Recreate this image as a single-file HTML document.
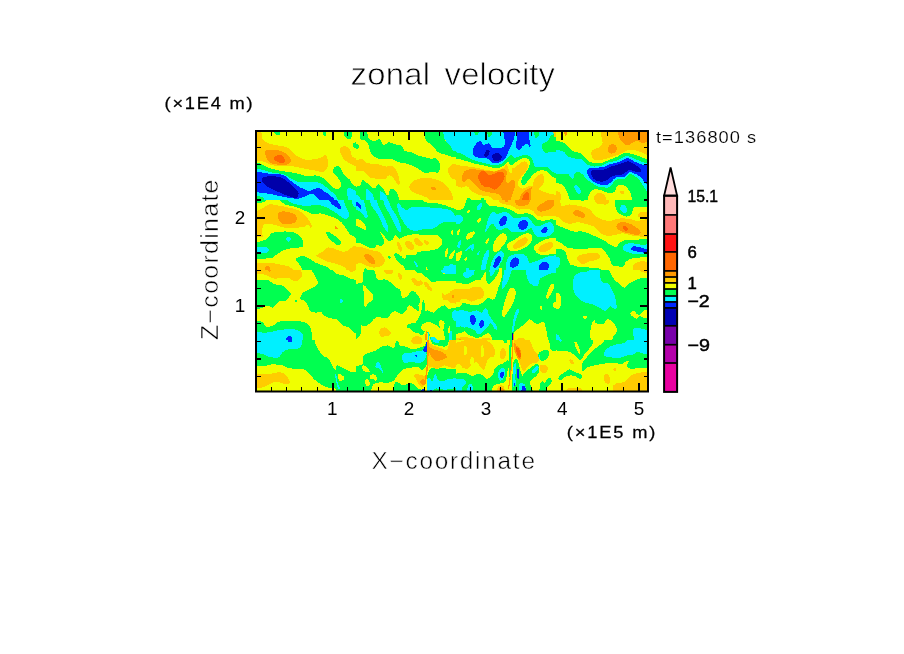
<!DOCTYPE html>
<html><head><meta charset="utf-8"><title>zonal velocity</title>
<style>html,body{margin:0;padding:0;background:#fff}svg{display:block}</style></head>
<body>
<svg width="904" height="654" viewBox="0 0 904 654">
<rect width="904" height="654" fill="#fff"/>
<defs><clipPath id="plot"><rect x="256" y="131" width="392" height="260.5"/></clipPath></defs>

<g clip-path="url(#plot)" shape-rendering="crispEdges">
<defs><clipPath id="t0"><rect x="256" y="130" width="100" height="70"/></clipPath><clipPath id="t1"><rect x="356" y="130" width="100" height="70"/></clipPath><clipPath id="t2"><rect x="456" y="130" width="100" height="70"/></clipPath><clipPath id="t3"><rect x="556" y="130" width="100" height="70"/></clipPath><clipPath id="t4"><rect x="256" y="200" width="100" height="70"/></clipPath><clipPath id="t5"><rect x="356" y="200" width="100" height="70"/></clipPath><clipPath id="t6"><rect x="456" y="200" width="100" height="70"/></clipPath><clipPath id="t7"><rect x="556" y="200" width="100" height="70"/></clipPath><clipPath id="t8"><rect x="256" y="270" width="100" height="70"/></clipPath><clipPath id="t9"><rect x="356" y="270" width="100" height="70"/></clipPath><clipPath id="t10"><rect x="456" y="270" width="100" height="70"/></clipPath><clipPath id="t11"><rect x="556" y="270" width="100" height="70"/></clipPath><clipPath id="t12"><rect x="256" y="340" width="100" height="70"/></clipPath><clipPath id="t13"><rect x="356" y="340" width="100" height="70"/></clipPath><clipPath id="t14"><rect x="456" y="340" width="100" height="70"/></clipPath><clipPath id="t15"><rect x="556" y="340" width="100" height="70"/></clipPath></defs>
<g clip-path="url(#t0)">
<rect x="256" y="130" width="100" height="70" fill="#F0FF00"/>
<path fill="#FFCC00" d="M249.4 123.4C249.4 123.4 257.8 128.5 261.0 132.2C262.5 133.9 261.4 136.9 262.6 138.8C263.9 140.8 266.0 142.3 268.2 143.3C271.3 144.6 274.8 144.7 278.1 145.5C281.4 146.2 285.1 146.1 288.1 147.7C290.8 149.2 292.2 152.5 294.7 154.3C297.4 156.4 300.3 158.4 303.6 159.3C306.8 160.2 310.2 159.7 313.5 159.3C316.5 159.0 319.5 158.1 322.4 157.1C323.6 156.6 324.7 154.0 325.7 154.9C327.6 156.6 327.7 159.6 327.9 162.1C328.1 164.3 327.9 166.8 326.8 168.7C325.9 170.3 324.2 171.8 322.4 172.0C319.8 172.4 317.2 170.9 314.6 170.4C311.3 169.8 308.0 169.3 304.7 168.7C301.0 168.0 297.3 167.0 293.6 166.5C290.3 166.1 287.0 166.1 283.7 166.0C280.0 165.8 276.2 166.1 272.6 165.4C269.8 164.8 267.5 163.0 264.8 162.1C263.1 161.5 261.2 160.8 259.3 161.0C255.9 161.2 249.4 163.2 249.4 163.2L249.4 123.4Z"/>
<path fill="#FF9900" d="M265.4 151.0C266.7 149.4 269.4 150.0 271.5 149.9C274.1 149.8 276.7 149.8 279.2 150.5C282.0 151.3 284.7 152.6 287.0 154.3C288.6 155.6 290.2 157.3 290.8 159.3C291.2 160.6 290.8 162.3 289.7 163.2C288.1 164.6 285.8 165.2 283.7 165.4C281.1 165.6 278.5 164.9 275.9 164.3C273.6 163.8 271.1 163.5 269.3 162.1C267.6 160.8 266.7 158.6 266.0 156.5C265.3 154.8 264.2 152.4 265.4 151.0Z"/>
<path fill="#FF6600" d="M273.7 158.8C273.7 156.8 276.3 155.5 278.1 154.9C279.6 154.4 281.3 155.1 282.5 156.0C283.8 156.9 284.7 158.4 285.0 159.9C285.2 160.9 284.6 162.3 283.7 162.6C281.9 163.2 279.9 162.8 278.1 162.1C276.4 161.4 273.7 160.6 273.7 158.8Z"/>
<path fill="#FFCC00" d="M340.1 148.8C341.0 147.0 343.6 145.8 345.6 146.0C347.5 146.3 349.0 148.3 350.0 149.9C351.3 151.9 350.5 155.0 352.2 156.5C355.1 159.0 362.6 161.0 362.6 161.0L362.6 168.7C362.6 168.7 354.8 166.1 351.1 164.3C348.7 163.1 346.4 161.7 344.5 159.9C343.0 158.3 342.0 156.3 341.2 154.3C340.5 152.6 339.2 150.5 340.1 148.8Z"/>
<path fill="#00FF50" d="M272.6 123.4L279.8 123.4C279.8 123.4 281.4 131.1 279.8 134.4C279.0 135.9 275.7 134.7 274.8 133.3C273.0 130.5 272.6 123.4 272.6 123.4Z"/>
<path fill="#00FF50" d="M322.4 123.4L326.2 123.4C326.2 123.4 326.7 132.0 325.7 136.1C325.5 136.9 323.7 135.8 323.5 135.0C322.5 131.2 322.4 123.4 322.4 123.4Z"/>
<path fill="#00FF50" d="M343.4 123.4L351.1 123.4C351.1 123.4 352.3 132.3 351.7 136.6C351.5 137.9 350.2 139.6 348.9 139.4C347.0 139.1 345.1 137.4 344.5 135.5C343.2 131.7 343.4 123.4 343.4 123.4Z"/>
<path fill="#00FF50" d="M353.3 143.3C355.9 141.3 362.6 141.1 362.6 141.1L362.6 149.9C362.6 149.9 356.3 149.4 353.9 147.7C352.7 146.8 352.2 144.2 353.3 143.3Z"/>
<path fill="#00FF50" d="M249.4 161.5C249.4 161.5 256.8 162.6 260.4 163.7C262.8 164.5 264.7 166.2 267.1 167.1C270.7 168.4 274.4 169.5 278.1 170.4C281.8 171.2 285.5 171.4 289.2 172.0C292.9 172.7 296.6 173.4 300.2 174.2C302.9 174.9 305.3 176.3 308.0 176.5C310.6 176.6 313.1 175.2 315.7 175.4C318.1 175.5 320.3 176.4 322.4 177.6C324.4 178.7 326.1 180.4 327.9 182.0C329.8 183.7 331.2 186.2 333.4 187.5C335.0 188.5 337.2 189.4 339.0 188.6C340.5 188.0 341.3 185.8 341.2 184.2C340.9 181.7 339.3 179.6 337.9 177.6C336.7 175.9 334.4 175.0 333.4 173.1C332.8 171.8 332.8 170.1 333.4 168.7C334.0 167.4 335.3 166.2 336.8 166.0C338.0 165.7 339.3 166.6 340.1 167.6C341.6 169.5 341.8 172.3 343.4 174.2C345.2 176.5 348.1 177.6 350.0 179.8C351.5 181.4 351.6 184.1 353.3 185.3C356.0 187.2 362.6 188.6 362.6 188.6L362.6 206.7L249.4 206.7L249.4 161.5Z"/>
<path fill="#00F0FF" d="M249.4 166.5C249.4 166.5 258.2 168.7 262.6 169.8C266.0 170.7 269.2 171.9 272.6 172.6C276.2 173.4 280.1 173.2 283.7 174.2C285.7 174.9 287.3 176.5 289.2 177.6C292.1 179.1 294.8 181.1 298.0 182.0C300.5 182.7 303.2 182.0 305.8 182.0C309.1 182.0 312.4 181.6 315.7 182.0C318.0 182.3 320.4 183.0 322.4 184.2C324.9 185.7 326.8 187.9 329.0 189.7C331.2 191.6 334.1 192.9 335.6 195.3C337.9 198.7 340.1 206.7 340.1 206.7L249.4 206.7L249.4 166.5Z"/>
<path fill="#0028FF" d="M249.4 170.4C249.4 170.4 258.2 171.9 262.6 172.6C266.0 173.1 269.2 173.9 272.6 174.2C275.9 174.6 279.4 173.9 282.5 174.8C284.7 175.4 286.3 177.3 288.1 178.7C290.0 180.1 291.7 181.7 293.6 183.1C295.8 184.7 297.9 186.2 300.2 187.5C302.0 188.5 304.0 188.9 305.8 189.7C306.9 190.2 307.9 191.4 309.1 191.4C310.7 191.3 312.0 189.9 313.5 189.4C315.3 188.8 317.2 187.9 319.1 188.3C321.2 188.7 322.8 190.4 324.6 191.6C327.6 193.7 331.2 195.3 333.4 198.3C335.2 200.6 335.6 206.7 335.6 206.7L323.5 206.7C323.5 206.7 318.7 199.2 315.7 196.0C314.6 194.8 313.0 193.8 311.3 193.8C309.3 193.8 307.6 195.4 305.8 196.0C303.2 197.0 300.8 198.6 298.0 198.7C293.6 198.9 289.2 197.9 284.8 197.1C279.6 196.3 274.5 194.6 269.3 193.8C262.7 192.8 249.4 191.6 249.4 191.6L249.4 170.4Z"/>
<path fill="#0000AA" d="M261.5 178.7C262.8 177.1 265.1 176.8 267.1 176.5C270.0 176.0 273.0 176.1 275.9 176.5C278.6 176.8 281.3 177.5 283.7 178.7C285.8 179.7 287.4 181.5 289.2 183.1C291.1 184.8 292.9 186.7 294.7 188.6C296.1 190.1 298.1 191.2 298.6 193.1C299.0 194.6 298.3 196.7 296.9 197.5C295.3 198.4 293.2 197.4 291.4 196.9C288.7 196.3 286.2 195.2 283.7 194.2C281.0 193.1 278.5 192.0 275.9 190.8C272.9 189.4 269.8 188.2 267.1 186.4C265.3 185.3 263.8 183.7 262.6 182.0C262.0 181.0 260.8 179.6 261.5 178.7Z"/>
<path fill="#00FF50" d="M249.4 196.4C249.4 196.4 258.8 195.2 262.6 197.5C265.6 199.2 267.1 206.7 267.1 206.7L249.4 206.7L249.4 196.4Z"/>
<path fill="#00F0FF" d="M347.8 188.6C348.2 188.0 349.3 187.8 350.0 188.1C354.4 189.7 362.6 194.2 362.6 194.2L362.6 206.7L348.9 206.7C348.9 206.7 347.5 197.6 347.3 193.1C347.2 191.6 347.1 189.9 347.8 188.6Z"/>
</g>
<g clip-path="url(#t1)">
<rect x="356" y="130" width="100" height="70" fill="#F0FF00"/>
<path fill="#00FF50" d="M360.4 123.4L367.6 123.4C367.6 123.4 366.6 133.2 368.2 137.7C368.9 139.8 371.6 140.8 373.7 141.1C375.8 141.4 377.8 138.6 379.8 139.4C381.9 140.2 381.5 144.3 383.7 144.9C385.6 145.5 387.1 142.3 389.2 142.2C391.2 142.1 392.8 143.9 394.7 144.4C396.9 145.0 399.5 144.2 401.4 145.5C403.1 146.7 402.9 149.8 404.7 151.0C406.5 152.3 409.2 151.4 411.3 152.1C413.7 152.9 415.6 154.6 417.9 155.4C420.1 156.2 422.4 156.5 424.6 157.1C426.8 157.7 429.0 158.5 431.2 158.8C432.7 158.9 434.3 157.6 435.6 158.2C437.2 158.9 438.2 160.5 439.0 162.1C439.8 163.8 440.3 165.7 440.1 167.6C439.9 169.4 439.4 171.6 437.9 172.6C436.6 173.4 434.9 172.0 433.4 172.0C430.5 172.0 427.5 173.2 424.6 172.6C422.1 172.1 420.2 169.9 417.9 168.7C415.8 167.5 413.6 166.3 411.3 165.4C409.2 164.5 406.9 163.8 404.7 163.2C402.5 162.6 400.2 162.8 398.0 162.1C395.7 161.3 393.8 159.2 391.4 158.8C388.9 158.3 386.2 159.5 383.7 159.3C381.0 159.1 378.2 158.9 375.9 157.7C373.6 156.4 371.7 154.4 370.4 152.1C369.2 150.2 369.6 147.6 368.7 145.5C368.1 143.9 367.3 142.1 366.0 141.1C364.4 139.8 361.0 140.7 360.4 138.8C358.9 133.9 360.4 123.4 360.4 123.4Z"/>
<path fill="#00FF50" d="M349.4 142.2C349.4 142.2 355.8 142.5 358.2 144.4C359.4 145.3 358.8 147.9 357.7 148.8C355.4 150.5 349.4 151.0 349.4 151.0L349.4 142.2Z"/>
<path fill="#00FF50" d="M424.0 123.4L443.4 123.4C443.4 123.4 443.0 133.9 444.5 138.8C445.3 141.6 448.2 143.2 450.0 145.5C451.2 146.9 451.7 149.2 453.3 149.9C456.2 151.2 462.6 151.0 462.6 151.0L462.6 157.7C462.6 157.7 454.9 157.2 451.1 156.5C448.8 156.1 446.7 155.1 444.5 154.3C442.3 153.6 439.8 153.5 437.9 152.1C435.9 150.8 435.1 148.3 433.4 146.6C431.4 144.6 428.7 143.2 426.8 141.1C425.7 139.8 424.8 138.3 424.6 136.6C423.9 132.3 424.0 123.4 424.0 123.4Z"/>
<path fill="#00F0FF" d="M442.8 123.4L462.6 123.4L462.6 151.0C462.6 151.0 456.2 151.7 453.3 150.5C451.5 149.7 451.2 147.1 450.0 145.5C448.3 143.2 445.4 141.6 444.5 138.8C442.9 133.9 442.8 123.4 442.8 123.4Z"/>
<path fill="#FFCC00" d="M349.4 162.1C349.4 162.1 358.1 159.0 362.6 159.3C364.6 159.4 365.2 162.6 367.1 163.2C370.6 164.3 374.5 163.6 378.1 164.3C380.8 164.8 383.2 166.2 385.9 166.5C388.1 166.8 390.5 165.0 392.5 166.0C394.7 167.1 395.8 169.8 396.9 172.0C398.0 174.1 398.8 176.4 399.1 178.7C399.4 180.7 400.6 184.3 398.6 184.8C396.5 185.3 396.2 181.3 394.7 179.8C393.0 178.1 391.5 175.6 389.2 175.4C387.5 175.2 386.9 178.2 385.3 178.7C383.0 179.4 380.5 178.8 378.1 178.7C375.5 178.5 372.7 178.7 370.4 177.6C368.0 176.4 367.0 173.5 364.8 172.0C363.6 171.2 361.9 170.9 360.4 170.9C356.7 171.1 349.4 172.6 349.4 172.6L349.4 162.1Z"/>
<path fill="#FFCC00" d="M409.1 186.4C408.7 188.0 410.1 189.8 411.3 190.8C413.2 192.5 415.7 193.2 417.9 194.2C420.8 195.4 424.2 195.7 426.8 197.5C430.3 199.9 435.6 206.7 435.6 206.7L453.3 206.7C453.3 206.7 453.4 198.2 452.2 194.2C451.5 191.6 449.4 189.6 447.8 187.5C446.5 185.8 445.3 183.7 443.4 182.5C440.4 180.7 436.9 179.4 433.4 178.7C429.8 177.9 426.0 177.7 422.4 178.1C419.3 178.5 416.1 179.2 413.5 180.9C411.5 182.1 409.6 184.1 409.1 186.4Z"/>
<path fill="#FF9900" d="M431.2 187.0C432.4 186.4 434.0 186.8 435.1 187.5C435.7 187.9 436.3 189.4 435.6 189.7C434.5 190.3 432.9 189.9 431.8 189.2C431.1 188.8 430.5 187.3 431.2 187.0Z"/>
<path fill="#FFCC00" d="M462.6 163.2C462.6 163.2 455.5 163.0 452.2 164.3C450.4 165.0 449.0 166.9 448.4 168.7C447.8 170.5 448.2 172.5 448.9 174.2C449.6 176.0 450.6 177.9 452.2 178.7C455.4 180.2 462.6 180.9 462.6 180.9L462.6 163.2Z"/>
<path fill="#00FF50" d="M349.4 187.5C349.4 187.5 357.1 187.1 360.4 185.3C362.0 184.4 360.9 180.9 362.6 180.3C364.3 179.8 365.6 182.1 367.1 183.1C369.7 184.9 371.6 188.3 374.8 188.6C376.6 188.8 376.3 184.0 378.1 184.2C380.7 184.5 381.9 187.8 383.7 189.7C385.2 191.5 385.7 195.5 388.1 195.3C390.2 195.1 388.7 190.6 390.3 189.2C391.3 188.3 393.1 188.9 394.2 189.7C395.9 191.1 397.3 193.1 398.0 195.3C399.3 198.9 400.2 206.7 400.2 206.7L349.4 206.7L349.4 187.5Z"/>
<path fill="#00F0FF" d="M366.0 189.4C366.1 188.4 367.9 189.7 368.7 190.3C370.2 191.4 371.9 192.5 372.6 194.2C374.3 198.1 375.7 206.7 375.7 206.7L367.1 206.7C367.1 206.7 365.4 195.1 366.0 189.4Z"/>
<path fill="#00F0FF" d="M380.1 191.6C380.2 190.6 382.3 191.9 383.1 192.5C384.5 193.5 386.1 194.7 386.8 196.4C388.0 199.6 388.6 206.7 388.6 206.7L381.4 206.7C381.4 206.7 379.5 196.6 380.1 191.6Z"/>
<path fill="#00F0FF" d="M349.4 193.1C349.4 193.1 357.0 193.7 359.3 196.4C361.6 199.0 361.0 206.7 361.0 206.7L349.4 206.7L349.4 193.1Z"/>
</g>
<g clip-path="url(#t2)">
<rect x="456" y="130" width="100" height="70" fill="#F0FF00"/>
<path fill="#00FF50" d="M449.4 157.7C449.4 157.7 458.3 158.8 462.6 159.9C466.0 160.7 469.2 162.3 472.6 163.2C476.2 164.1 480.0 164.6 483.7 165.4C487.4 166.2 490.9 167.9 494.7 168.2C497.4 168.3 500.1 167.6 502.5 166.5C504.6 165.5 505.6 162.4 508.0 162.1C509.5 161.9 509.7 165.4 511.3 165.4C513.2 165.4 514.2 163.1 515.7 162.1C517.9 160.7 519.9 158.9 522.4 158.2C524.2 157.7 526.3 157.8 527.9 158.8C529.3 159.7 530.3 161.5 530.1 163.2C529.9 166.0 528.1 168.5 526.8 170.9C525.5 173.3 523.6 175.2 522.4 177.6C521.7 178.9 521.1 180.5 521.3 182.0C521.5 183.3 522.2 185.5 523.5 185.3C525.5 185.0 526.5 182.4 527.9 180.9C529.8 178.7 531.3 176.1 533.4 174.2C535.4 172.6 537.6 170.9 540.1 170.4C542.3 169.9 544.7 170.5 546.7 171.5C548.9 172.6 550.1 175.2 552.2 176.5C555.5 178.4 562.6 180.9 562.6 180.9L562.6 123.4L449.4 123.4L449.4 157.7Z"/>
<path fill="#00F0FF" d="M449.4 151.0C449.4 151.0 457.6 152.4 461.5 153.8C464.3 154.8 466.6 157.0 469.3 158.2C472.1 159.5 475.1 160.6 478.1 161.5C481.8 162.6 485.5 163.4 489.2 164.3C491.0 164.7 492.8 165.6 494.7 165.4C497.4 165.2 500.1 164.5 502.5 163.2C504.7 161.9 506.1 159.4 508.0 157.7C509.0 156.7 509.9 154.9 511.3 154.9C512.7 154.9 513.2 157.5 514.6 157.7C516.5 157.9 518.3 156.4 520.2 156.0C522.3 155.5 524.6 154.6 526.8 154.9C528.5 155.1 530.1 156.3 531.2 157.7C532.5 159.2 532.6 161.4 533.4 163.2C534.1 164.5 534.3 166.5 535.6 167.1C537.7 167.8 540.1 166.4 542.3 166.5C544.2 166.6 546.2 166.7 547.8 167.6C549.6 168.6 550.3 171.2 552.2 172.0C555.5 173.5 562.6 174.2 562.6 174.2L562.6 123.4L449.4 123.4L449.4 151.0Z"/>
<path fill="#00FF50" d="M542.3 144.4C543.3 142.5 546.3 142.6 547.8 141.1C549.0 139.9 549.0 137.9 550.0 136.6C550.9 135.6 552.1 134.8 553.3 134.4C556.4 133.6 562.6 133.3 562.6 133.3L562.6 152.1C562.6 152.1 555.0 151.3 551.1 151.6C549.2 151.7 547.5 153.6 545.6 153.2C544.2 152.9 543.3 151.3 542.8 149.9C542.2 148.2 541.4 146.0 542.3 144.4Z"/>
<path fill="#00FF50" d="M474.3 123.4L480.9 123.4C480.9 123.4 480.0 131.1 478.1 134.4C477.6 135.4 475.2 135.5 474.8 134.4C473.6 130.9 474.3 123.4 474.3 123.4Z"/>
<path fill="#00FF50" d="M487.0 123.4L491.4 123.4C491.4 123.4 492.4 131.6 491.4 135.5C491.1 136.7 488.5 137.7 488.1 136.6C486.6 132.5 487.0 123.4 487.0 123.4Z"/>
<path fill="#00FF50" d="M533.4 123.4L538.4 123.4C538.4 123.4 539.4 132.3 538.4 136.6C538.1 137.7 535.5 138.2 535.1 137.2C533.5 132.8 533.4 123.4 533.4 123.4Z"/>
<path fill="#FFCC00" d="M553.9 123.4L562.6 123.4L562.6 138.3C562.6 138.3 555.9 139.0 554.5 136.6C552.2 132.8 553.9 123.4 553.9 123.4Z"/>
<path fill="#0028FF" d="M472.6 151.0C472.6 149.0 473.6 147.1 474.8 145.5C476.3 143.6 478.0 141.2 480.3 141.1C482.0 141.0 482.0 144.5 483.7 144.9C485.5 145.4 487.3 142.7 489.2 143.3C490.9 143.8 490.9 146.8 492.5 147.7C494.1 148.6 496.2 148.4 498.0 148.3C500.0 148.1 502.4 148.1 503.6 146.6C505.0 144.8 504.9 142.2 504.7 140.0C504.1 134.3 501.4 123.4 501.4 123.4L516.8 123.4C516.8 123.4 515.1 134.5 513.5 140.0C512.5 143.4 510.6 146.6 509.1 149.9C508.0 152.5 507.4 155.4 505.8 157.7C504.4 159.6 502.4 161.1 500.2 162.1C498.2 163.0 495.8 163.8 493.6 163.2C491.3 162.6 490.2 159.7 488.1 158.8C486.0 157.8 483.7 158.0 481.4 157.7C479.2 157.3 476.6 157.9 474.8 156.5C473.2 155.4 472.6 153.0 472.6 151.0Z"/>
<path fill="#0028FF" d="M517.9 123.4L527.9 123.4C527.9 123.4 529.0 135.2 529.6 141.1C529.7 142.9 531.4 145.3 530.1 146.6C529.1 147.6 528.2 143.8 526.8 143.8C525.1 143.8 523.7 145.5 522.4 146.6C521.1 147.6 520.6 149.6 519.1 149.9C517.9 150.1 516.5 148.9 516.3 147.7C515.7 144.8 516.6 141.8 516.8 138.8C517.2 133.7 517.9 123.4 517.9 123.4Z"/>
<path fill="#0000AA" d="M484.2 154.9C484.2 153.2 485.3 151.6 486.4 150.5C487.1 149.8 488.6 149.2 489.2 149.9C490.0 150.9 489.6 152.6 489.2 153.8C488.7 155.1 487.8 156.8 486.4 157.1C485.4 157.3 484.2 155.9 484.2 154.9Z"/>
<path fill="#0000AA" d="M492.0 155.4C492.3 154.0 494.3 153.4 495.8 153.2C497.3 153.0 499.0 153.4 500.2 154.3C501.2 155.1 502.1 156.4 501.9 157.7C501.7 158.9 500.4 160.0 499.1 160.4C497.6 161.0 495.5 161.4 494.2 160.4C492.7 159.4 491.5 157.2 492.0 155.4Z"/>
<path fill="#FFCC00" d="M449.4 164.3C449.4 164.3 464.9 165.9 472.6 167.1C480.0 168.1 487.2 170.8 494.7 170.9C497.9 171.0 500.8 169.2 503.6 167.6C505.4 166.6 505.9 163.3 508.0 163.2C509.6 163.1 509.4 166.2 510.8 167.1C511.8 167.8 513.4 168.1 514.6 167.6C516.8 166.7 518.1 164.4 520.2 163.2C521.5 162.4 523.0 161.3 524.6 161.5C526.0 161.7 527.5 162.9 527.9 164.3C528.4 166.1 527.6 168.1 526.8 169.8C525.7 171.9 523.8 173.5 522.4 175.4C521.2 176.8 519.8 178.1 519.1 179.8C518.3 181.5 517.3 183.5 517.9 185.3C518.6 187.0 520.5 188.4 522.4 188.6C524.3 188.8 526.0 186.8 527.9 186.4C529.3 186.1 531.3 185.4 532.3 186.4C533.7 187.7 533.4 190.1 533.4 191.9C533.4 196.9 532.3 206.7 532.3 206.7L500.2 206.7C500.2 206.7 493.6 198.9 489.2 196.4C486.6 194.9 483.2 196.0 480.3 195.3C477.6 194.5 474.9 193.5 472.6 191.9C470.4 190.5 469.5 187.4 467.1 186.4C465.3 185.7 463.4 187.9 461.5 187.5C457.3 186.7 449.4 183.1 449.4 183.1L449.4 164.3Z"/>
<path fill="#F0FF00" d="M507.4 163.2C507.6 162.2 509.5 163.6 510.2 164.3C511.3 165.5 512.2 167.1 512.4 168.7C512.6 170.2 512.6 172.3 511.3 173.1C510.4 173.7 509.5 171.9 509.1 170.9C508.1 168.5 507.0 165.8 507.4 163.2Z"/>
<path fill="#FF9900" d="M462.1 176.5C462.3 174.4 463.1 172.1 464.8 170.9C467.0 169.4 470.0 169.3 472.6 169.3C476.3 169.2 480.0 170.0 483.7 170.4C487.3 170.7 491.0 171.8 494.7 171.5C497.8 171.2 500.5 168.6 503.6 168.7C505.1 168.8 506.5 170.5 506.9 172.0C507.4 174.2 505.6 176.4 505.8 178.7C505.9 180.3 506.4 182.9 508.0 183.1C510.1 183.4 511.7 178.6 513.5 179.8C515.7 181.2 514.8 184.9 514.6 187.5C514.4 189.8 513.1 191.9 512.4 194.2C511.2 198.3 509.1 206.7 509.1 206.7L502.5 206.7C502.5 206.7 502.5 198.4 500.2 195.3C498.7 193.1 495.1 193.7 492.5 193.1C490.7 192.6 488.8 192.4 487.0 191.9C485.1 191.5 483.1 191.2 481.4 190.3C479.7 189.3 478.4 187.8 477.0 186.4C475.5 185.0 474.2 183.4 472.6 182.0C471.2 180.8 470.0 178.7 468.2 178.7C466.3 178.7 465.5 182.6 463.7 182.0C461.9 181.3 461.9 178.4 462.1 176.5Z"/>
<path fill="#FF6600" d="M478.1 176.5C478.4 174.5 479.7 172.5 481.4 171.5C482.7 170.7 484.5 171.4 485.9 172.0C487.3 172.7 487.6 175.3 489.2 175.4C491.9 175.5 494.3 173.3 496.9 172.6C498.7 172.1 500.8 171.2 502.5 172.0C503.9 172.8 504.7 174.8 504.7 176.5C504.7 178.4 503.4 180.3 502.5 182.0C501.6 183.6 500.4 185.1 499.1 186.4C497.8 187.7 496.5 189.5 494.7 189.7C493.1 189.9 491.9 188.0 490.3 187.5C488.1 186.9 485.6 187.5 483.7 186.4C481.9 185.5 480.7 183.7 479.8 182.0C478.8 180.3 477.8 178.4 478.1 176.5Z"/>
<path fill="#FF9900" d="M517.9 206.7C517.9 206.7 519.3 198.0 521.3 194.2C522.4 192.1 524.8 190.9 526.8 189.7C528.5 188.7 530.4 186.9 532.3 187.5C533.8 188.0 533.5 190.4 533.4 191.9C533.1 196.9 531.2 206.7 531.2 206.7L517.9 206.7Z"/>
<path fill="#FF6600" d="M520.7 206.7C520.7 206.7 521.9 198.8 523.5 195.3C524.2 193.7 525.6 191.9 527.3 191.9C528.6 191.9 529.0 194.0 529.0 195.3C529.2 199.1 527.9 206.7 527.9 206.7L520.7 206.7Z"/>
<path fill="#FFCC00" d="M533.4 182.0C533.7 179.9 535.1 177.9 536.8 176.5C538.2 175.2 540.4 173.7 542.3 174.2C543.9 174.7 544.4 177.0 544.5 178.7C544.6 180.6 543.8 182.5 542.8 184.2C541.9 185.9 540.0 187.0 539.0 188.6C537.6 190.7 536.1 192.8 535.6 195.3C535.0 199.0 535.6 206.7 535.6 206.7L532.3 206.7C532.3 206.7 532.2 190.1 533.4 182.0Z"/>
<path fill="#00FF50" d="M467.1 206.7C467.1 206.7 465.6 197.5 468.7 197.5C471.9 197.5 471.5 206.7 471.5 206.7L467.1 206.7Z"/>
<path fill="#00FF50" d="M480.3 206.7C480.3 206.7 479.4 197.5 482.5 197.5C485.7 197.5 484.8 206.7 484.8 206.7L480.3 206.7Z"/>
<path fill="#FFCC00" d="M532.3 186.4C533.6 183.8 537.4 189.2 540.1 190.3C542.6 191.4 545.2 192.3 547.8 193.1C552.7 194.4 562.6 196.4 562.6 196.4L562.6 206.7L532.3 206.7C532.3 206.7 529.4 192.5 532.3 186.4Z"/>
</g>
<g clip-path="url(#t3)">
<rect x="556" y="130" width="100" height="70" fill="#F0FF00"/>
<path fill="#00FF50" d="M549.4 140.0C549.4 140.0 558.4 140.7 562.6 142.2C564.9 143.0 566.4 145.0 568.2 146.6C569.7 148.0 570.8 150.0 572.6 151.0C574.9 152.3 578.1 151.8 580.3 153.2C583.0 154.9 584.5 158.0 587.0 159.9C589.0 161.4 591.2 162.8 593.6 163.2C596.5 163.7 599.6 163.3 602.5 162.6C605.2 162.0 607.6 160.3 610.2 159.3C612.8 158.3 615.5 157.7 617.9 156.5C620.3 155.5 622.1 153.2 624.6 152.7C626.8 152.2 629.0 153.2 631.2 153.8C634.2 154.5 637.1 155.6 640.1 156.5C642.7 157.4 645.1 159.0 647.8 159.3C652.7 159.9 662.6 159.3 662.6 159.3L662.6 206.7L632.3 206.7C632.3 206.7 632.1 199.0 631.2 195.3C630.6 192.9 629.5 190.5 627.9 188.6C626.5 186.9 624.6 185.2 622.4 184.8C620.5 184.4 618.3 185.1 616.8 186.4C615.4 187.8 616.1 190.7 614.6 191.9C613.2 193.2 611.0 193.2 609.1 193.1C606.8 192.8 604.7 191.4 602.5 190.8C599.9 190.2 597.3 188.5 594.7 189.2C592.3 189.8 590.2 191.9 589.2 194.2C587.5 198.0 587.0 206.7 587.0 206.7L572.6 206.7C572.6 206.7 569.7 199.1 568.2 195.3C567.4 193.4 567.0 191.4 566.0 189.7C564.7 187.7 563.7 185.2 561.5 184.2C557.8 182.5 549.4 182.0 549.4 182.0L549.4 140.0Z"/>
<path fill="#00F0FF" d="M549.4 150.5C549.4 150.5 558.4 149.7 562.6 151.0C565.1 151.8 565.9 155.2 568.2 156.5C570.5 157.9 573.3 158.2 575.9 158.8C577.7 159.1 579.8 158.5 581.4 159.3C583.7 160.4 584.8 163.0 587.0 164.3C589.0 165.5 591.3 166.3 593.6 166.5C596.6 166.7 599.6 166.2 602.5 165.4C604.5 164.9 606.0 163.3 608.0 162.6C610.5 161.8 613.2 161.8 615.7 161.0C618.1 160.2 620.1 158.7 622.4 157.7C623.8 157.0 625.2 155.9 626.8 156.0C629.1 156.1 631.3 157.4 633.4 158.2C636.1 159.2 638.5 160.6 641.2 161.5C643.3 162.3 645.5 163.0 647.8 163.2C652.7 163.6 662.6 163.2 662.6 163.2L662.6 191.9C662.6 191.9 652.6 193.1 647.8 191.9C646.0 191.5 645.6 189.0 644.5 187.5C642.6 185.0 641.1 182.1 639.0 179.8C637.4 178.0 635.5 176.5 633.4 175.4C632.1 174.6 630.4 173.7 629.0 174.2C627.1 175.0 626.5 177.9 624.6 178.7C621.8 179.8 618.4 178.4 615.7 179.8C613.6 180.8 613.0 183.6 611.3 185.3C610.4 186.2 609.3 187.4 608.0 187.5C604.7 187.8 601.2 187.4 598.0 186.4C595.6 185.7 593.6 183.9 591.4 182.5C589.5 181.3 587.5 180.2 585.9 178.7C584.5 177.4 583.9 175.4 582.5 174.2C581.3 173.2 579.8 172.3 578.1 172.0C577.0 171.9 575.6 172.2 574.8 173.1C573.5 174.7 574.6 178.3 572.6 178.7C570.5 179.0 570.0 175.2 568.2 174.2C566.5 173.4 564.5 173.7 562.6 173.7C558.2 173.7 549.4 174.2 549.4 174.2L549.4 150.5Z"/>
<path fill="#0028FF" d="M587.0 170.9C587.1 169.8 588.1 168.6 589.2 168.2C591.3 167.4 593.6 167.8 595.8 167.6C598.4 167.4 601.1 167.7 603.6 167.1C605.6 166.6 607.1 164.9 609.1 164.3C611.6 163.5 614.3 163.4 616.8 162.6C619.1 161.9 621.3 160.8 623.5 159.9C624.9 159.3 626.3 158.0 627.9 158.2C630.0 158.4 631.6 160.1 633.4 161.0C636.0 162.1 638.5 163.5 641.2 164.3C643.3 165.0 645.6 165.3 647.8 165.4C652.7 165.7 662.6 165.4 662.6 165.4L662.6 185.3C662.6 185.3 652.7 186.2 647.8 185.3C646.3 185.0 645.5 183.2 644.5 182.0C642.9 180.2 641.9 177.9 640.1 176.5C638.1 174.9 635.7 174.1 633.4 173.1C632.0 172.6 630.4 171.5 629.0 172.0C627.1 172.8 626.5 175.7 624.6 176.5C621.8 177.6 618.5 176.4 615.7 177.6C613.8 178.4 612.9 180.7 611.3 182.0C610.0 183.1 608.6 184.5 606.9 184.8C604.0 185.2 600.9 185.0 598.0 184.2C596.0 183.6 594.2 182.3 592.5 180.9C591.0 179.6 589.6 178.2 588.6 176.5C587.7 174.8 586.8 172.8 587.0 170.9Z"/>
<path fill="#0000AA" d="M590.8 173.1C590.7 172.1 591.5 170.7 592.5 170.4C594.9 169.5 597.7 170.0 600.2 169.8C602.1 169.7 604.0 169.8 605.8 169.3C607.8 168.7 609.4 167.2 611.3 166.5C613.8 165.6 616.5 165.1 619.1 164.3C620.9 163.7 622.7 162.6 624.6 162.1C626.0 161.7 627.6 161.2 629.0 161.5C631.0 162.0 632.8 163.2 634.5 164.3C636.1 165.3 637.7 166.3 639.0 167.6C639.9 168.6 641.2 169.6 641.2 170.9C641.2 171.9 639.9 172.6 639.0 172.6C637.0 172.6 635.3 171.3 633.4 170.9C631.6 170.6 629.7 169.8 627.9 170.4C626.0 171.0 625.3 173.5 623.5 174.2C621.1 175.2 618.3 174.7 615.7 175.4C613.8 175.8 611.9 176.6 610.2 177.6C608.6 178.5 607.5 180.3 605.8 180.9C603.7 181.6 601.3 181.8 599.1 181.4C597.1 181.1 595.1 180.1 593.6 178.7C592.2 177.2 591.1 175.2 590.8 173.1Z"/>
<path fill="#00F0FF" d="M574.3 186.4C574.4 185.5 575.6 184.4 576.5 184.8C578.0 185.4 578.9 187.2 579.8 188.6C580.4 189.8 581.3 191.2 580.9 192.5C580.6 193.4 579.0 194.0 578.1 193.6C576.8 193.1 576.0 191.6 575.4 190.3C574.7 189.1 574.0 187.7 574.3 186.4Z"/>
<path fill="#FFCC00" d="M600.2 123.4L662.6 123.4L662.6 155.4C662.6 155.4 652.7 156.2 647.8 155.4C645.4 155.1 643.5 153.0 641.2 152.1C638.7 151.2 636.1 150.2 633.4 149.9C631.2 149.7 628.9 149.8 626.8 150.5C624.4 151.2 622.4 152.8 620.2 153.8C618.0 154.8 615.8 155.8 613.5 156.5C611.0 157.4 608.4 158.1 605.8 158.8C604.0 159.2 602.1 159.8 600.2 159.9C598.0 160.0 595.5 160.5 593.6 159.3C592.1 158.4 591.6 156.1 591.4 154.3C591.2 152.8 591.4 150.9 592.5 149.9C594.3 148.4 597.2 149.0 599.1 147.7C600.7 146.7 602.1 145.1 602.5 143.3C602.9 141.1 601.6 138.9 601.4 136.6C600.9 132.2 600.2 123.4 600.2 123.4Z"/>
<path fill="#FF9900" d="M617.9 123.4L662.6 123.4L662.6 141.1C662.6 141.1 652.7 140.5 647.8 141.1C646.2 141.3 645.0 143.3 643.4 143.3C641.4 143.3 639.8 141.3 637.9 141.1C636.3 140.9 634.8 141.6 633.4 142.2C631.5 143.0 630.0 145.2 627.9 145.5C626.3 145.7 624.7 144.4 623.5 143.3C621.7 141.7 619.7 140.0 619.1 137.7C617.8 133.1 617.9 123.4 617.9 123.4Z"/>
<path fill="#FF9900" d="M608.0 147.7C608.4 146.2 609.8 144.8 611.3 144.4C612.8 144.0 614.7 144.4 615.7 145.5C616.8 146.6 617.3 148.4 616.8 149.9C616.4 151.4 615.0 152.7 613.5 153.2C612.1 153.7 610.1 153.7 609.1 152.7C607.9 151.5 607.6 149.3 608.0 147.7Z"/>
<path fill="#FF9900" d="M563.7 123.4L568.2 123.4C568.2 123.4 568.0 130.8 567.1 134.4C566.8 135.2 565.1 136.3 564.8 135.5C563.7 131.6 563.7 123.4 563.7 123.4Z"/>
<path fill="#FFCC00" d="M549.4 189.7C549.4 189.7 556.4 190.3 559.3 191.9C560.7 192.7 560.9 194.8 561.0 196.4C561.2 199.8 560.4 206.7 560.4 206.7L549.4 206.7L549.4 189.7Z"/>
<path fill="#FFCC00" d="M594.2 206.7C594.2 206.7 593.4 198.8 594.7 195.3C595.3 193.7 597.5 193.1 599.1 193.1C601.1 193.1 603.6 193.6 604.7 195.3C606.8 198.6 608.0 206.7 608.0 206.7L594.2 206.7Z"/>
<path fill="#FFCC00" d="M620.2 191.4C620.8 190.5 622.5 190.3 623.5 190.8C624.3 191.3 624.6 192.8 624.0 193.6C623.5 194.4 622.1 194.6 621.3 194.2C620.4 193.7 619.6 192.2 620.2 191.4Z"/>
</g>
<g clip-path="url(#t4)">
<rect x="256" y="200" width="100" height="70" fill="#F0FF00"/>
<path fill="#00FF50" d="M249.4 193.4L249.4 203.9C249.4 203.9 257.5 203.6 261.5 202.8C263.1 202.4 264.7 201.6 266.0 200.6C268.4 198.4 272.6 193.4 272.6 193.4C272.6 193.4 277.7 198.2 280.3 200.6C281.8 201.9 283.0 203.7 284.8 204.4C287.9 205.7 291.5 205.6 294.7 206.6C298.5 207.8 302.1 209.5 305.8 211.1C308.4 212.1 310.7 214.0 313.5 214.4C315.7 214.7 317.9 213.1 320.2 213.3C322.8 213.5 325.3 214.7 327.9 215.5C330.5 216.3 333.2 217.0 335.6 218.3C337.7 219.3 339.5 220.6 341.2 222.1C342.9 223.7 344.2 225.7 345.6 227.7C347.2 229.8 347.9 232.7 350.0 234.3C353.8 237.2 362.6 240.9 362.6 240.9L362.6 193.4L249.4 193.4Z"/>
<path fill="#00F0FF" d="M267.1 193.4L281.4 193.4C281.4 193.4 286.2 199.3 289.2 201.7C290.7 202.9 292.8 203.3 294.7 203.9C297.3 204.6 299.8 205.3 302.5 205.5C305.4 205.8 308.4 205.6 311.3 205.5C313.5 205.5 315.7 204.8 317.9 205.0C320.2 205.2 322.4 205.8 324.6 206.6C326.9 207.5 329.1 208.7 331.2 210.0C333.5 211.3 335.7 212.9 337.9 214.4C339.7 215.6 341.3 217.4 343.4 218.3C344.8 218.8 346.7 219.2 347.8 218.3C349.1 217.1 349.2 214.9 348.9 213.3C348.5 210.8 346.4 209.0 345.6 206.6C344.2 202.3 342.3 193.4 342.3 193.4L267.1 193.4Z"/>
<path fill="#00F0FF" d="M351.1 193.4L362.6 193.4L362.6 208.8C362.6 208.8 355.3 208.2 353.3 205.5C350.9 202.2 351.1 193.4 351.1 193.4Z"/>
<path fill="#0028FF" d="M325.7 193.4C325.7 193.4 328.9 200.3 331.2 203.3C332.7 205.2 334.8 206.4 336.8 207.7C337.8 208.4 338.9 209.9 340.1 209.4C341.1 209.0 341.0 207.2 340.6 206.1C340.2 204.6 338.4 203.7 337.9 202.2C336.8 199.4 335.6 193.4 335.6 193.4L325.7 193.4Z"/>
<path fill="#FFCC00" d="M249.4 214.4C249.4 214.4 257.5 210.8 261.5 208.8C264.2 207.5 266.4 205.0 269.3 204.4C272.2 203.8 275.2 205.0 278.1 205.5C281.8 206.1 285.5 206.9 289.2 207.7C292.2 208.4 295.3 208.6 298.0 210.0C300.6 211.2 302.6 213.5 304.7 215.5C306.7 217.5 308.8 219.6 310.2 222.1C311.1 223.8 312.5 226.2 311.3 227.7C310.4 228.8 309.4 225.1 308.0 224.9C306.8 224.7 305.9 226.2 304.7 226.5C302.1 227.2 299.5 227.4 296.9 227.7C293.6 228.0 290.3 228.5 287.0 228.2C283.9 227.9 281.1 226.8 278.1 226.0C275.5 225.3 273.1 224.0 270.4 223.8C268.1 223.6 265.2 223.2 263.7 224.9C261.9 227.0 262.4 230.4 262.1 233.2C262.0 234.3 263.7 236.1 262.6 236.5C258.4 238.0 249.4 237.6 249.4 237.6L249.4 214.4Z"/>
<path fill="#FF9900" d="M277.6 214.4C278.1 212.9 279.9 211.9 281.4 211.6C284.0 211.1 286.7 211.6 289.2 212.2C291.1 212.6 293.2 213.1 294.7 214.4C296.0 215.5 296.9 217.2 296.9 218.8C296.9 220.3 296.0 221.9 294.7 222.7C292.8 223.9 290.4 224.1 288.1 224.3C286.2 224.5 284.2 224.7 282.5 223.8C280.8 222.9 279.6 221.1 278.7 219.4C277.9 217.9 277.0 216.0 277.6 214.4Z"/>
<path fill="#00FF50" d="M249.4 243.1C249.4 243.1 258.3 242.2 262.6 240.9C264.7 240.3 266.6 239.0 268.2 237.6C269.6 236.4 269.9 234.1 271.5 233.2C273.4 232.1 275.9 232.4 278.1 232.1C280.0 231.8 281.8 231.5 283.7 231.5C286.6 231.5 289.6 231.4 292.5 232.1C294.9 232.7 297.2 233.8 299.1 235.4C300.9 236.8 302.4 238.8 303.0 240.9C303.5 242.7 303.7 245.1 302.5 246.5C301.2 247.8 298.8 247.3 296.9 247.6C294.4 248.0 291.7 248.1 289.2 248.7C286.9 249.2 284.7 249.9 282.5 250.9C280.6 251.8 278.8 253.0 277.0 254.2C275.5 255.2 274.3 256.9 272.6 257.5C270.1 258.4 267.4 258.4 264.8 258.6C259.7 259.1 249.4 259.7 249.4 259.7L249.4 243.1Z"/>
<path fill="#00F0FF" d="M249.4 247.6C249.4 247.6 260.5 246.4 266.0 247.0C267.3 247.2 268.5 248.5 268.7 249.8C268.9 250.8 268.0 252.1 267.1 252.5C265.4 253.3 263.4 252.9 261.5 253.1C257.5 253.5 249.4 254.2 249.4 254.2L249.4 247.6Z"/>
<path fill="#00F0FF" d="M286.4 238.2C286.9 237.3 288.2 236.8 289.2 237.1C290.1 237.3 290.8 238.3 290.8 239.3C290.8 240.2 290.0 241.1 289.2 241.5C288.5 241.8 287.5 241.5 287.0 240.9C286.4 240.2 286.0 239.0 286.4 238.2Z"/>
<path fill="#00FF50" d="M326.2 232.6C326.4 231.7 328.1 231.7 329.0 232.1C331.5 233.1 333.5 234.9 335.6 236.5C337.2 237.7 339.0 238.7 340.1 240.4C340.8 241.5 341.2 243.1 340.6 244.2C340.2 245.2 338.8 245.7 337.9 245.4C335.7 244.6 334.1 242.9 332.3 241.5C330.7 240.1 329.1 238.8 327.9 237.1C327.0 235.8 325.9 234.2 326.2 232.6Z"/>
<path fill="#00FF50" d="M295.8 259.2C296.7 257.7 298.5 256.7 300.2 256.4C302.4 256.0 304.8 256.4 306.9 257.2C310.1 258.5 312.6 261.2 315.7 262.7C320.0 264.9 325.2 265.3 329.0 268.3C331.5 270.2 333.4 276.7 333.4 276.7L304.7 276.7C304.7 276.7 302.1 268.9 300.2 265.3C299.5 263.9 297.8 263.2 296.9 261.9C296.3 261.1 295.3 260.0 295.8 259.2Z"/>
<path fill="#FFCC00" d="M316.3 255.3C317.8 253.6 320.4 253.3 322.4 252.0C324.3 250.7 325.6 248.0 327.9 247.6C330.5 247.0 333.1 248.5 335.6 249.2C338.3 250.0 340.7 251.9 343.4 252.0C345.4 252.1 347.2 250.7 348.9 249.8C350.5 248.9 351.6 247.0 353.3 246.5C356.3 245.5 362.6 245.4 362.6 245.4L362.6 267.7L353.3 276.7L350.0 276.7C350.0 276.7 347.6 270.2 345.2 267.9C342.7 265.6 339.2 264.8 336.0 263.7C333.0 262.7 329.8 262.6 326.8 261.6C324.8 260.9 323.1 259.6 321.3 258.6C320.2 258.1 319.0 257.7 317.9 257.0C317.3 256.5 315.8 255.9 316.3 255.3Z"/>
<path fill="#FFCC00" d="M249.4 263.9C249.4 263.9 261.2 262.5 267.1 262.7C272.3 262.9 277.5 263.8 282.5 264.9C286.0 265.7 289.9 266.2 292.5 268.6C294.7 270.5 295.8 276.7 295.8 276.7L249.4 276.7L249.4 263.9Z"/>
<path fill="#FF9900" d="M264.8 267.5C265.3 266.1 268.5 265.7 269.3 266.9C271.0 269.7 270.4 276.7 270.4 276.7L266.0 276.7C266.0 276.7 263.9 270.4 264.8 267.5Z"/>
<path fill="#FF9900" d="M335.1 226.5C335.6 226.0 336.8 226.5 337.3 227.1C337.8 227.7 337.8 228.8 337.3 229.3C336.9 229.7 336.0 229.2 335.6 228.8C335.2 228.2 334.6 227.1 335.1 226.5Z"/>
</g>
<g clip-path="url(#t5)">
<rect x="356" y="200" width="100" height="70" fill="#00FF50"/>
<path fill="#F0FF00" d="M420.2 193.4L462.6 193.4L462.6 210.0C462.6 210.0 454.9 208.8 451.1 207.7C448.8 207.1 446.8 205.6 444.5 205.0C440.9 204.0 437.1 203.4 433.4 202.8C430.5 202.3 427.0 203.4 424.6 201.7C422.0 199.8 420.2 193.4 420.2 193.4Z"/>
<path fill="#00F0FF" d="M398.0 203.3C399.9 202.4 400.8 206.5 402.5 207.7C403.8 208.7 405.2 210.1 406.9 210.0C408.6 209.8 409.6 207.5 411.3 207.2C414.9 206.5 418.7 207.1 422.4 207.2C426.1 207.3 429.8 207.5 433.4 207.7C437.1 208.0 440.8 208.2 444.5 208.8C447.1 209.3 450.0 209.6 452.2 211.1C453.7 212.0 453.8 214.2 455.0 215.5C457.3 217.9 462.6 222.1 462.6 222.1C462.6 222.1 454.2 222.0 450.0 222.1C447.4 222.2 444.7 221.9 442.3 222.7C440.1 223.4 438.7 225.4 436.8 226.5C435.0 227.6 433.2 228.9 431.2 229.3C428.3 229.9 425.3 229.0 422.4 229.3C420.1 229.6 418.0 231.1 415.7 231.0C413.0 230.8 410.2 229.8 408.0 228.2C406.0 226.7 405.0 224.2 403.6 222.1C402.4 220.3 401.1 218.6 400.2 216.6C399.3 214.5 398.4 212.3 398.0 210.0C397.7 207.8 396.1 204.3 398.0 203.3Z"/>
<path fill="#00F0FF" d="M349.4 193.4L361.5 193.4C361.5 193.4 364.8 203.6 366.0 208.8C366.6 211.7 368.6 215.1 367.1 217.7C366.1 219.3 364.0 215.6 362.6 214.4C361.4 213.4 360.7 211.8 359.3 211.1C356.2 209.5 349.4 207.7 349.4 207.7L349.4 193.4Z"/>
<path fill="#0028FF" d="M349.4 201.7C349.4 201.7 355.5 201.0 358.2 202.2C359.8 202.9 360.4 205.0 361.0 206.6C361.2 207.4 361.2 209.0 360.4 208.8C359.1 208.6 358.9 206.6 357.7 206.1C355.0 205.0 349.4 204.4 349.4 204.4L349.4 201.7Z"/>
<path fill="#00F0FF" d="M368.2 193.4L374.8 193.4C374.8 193.4 377.4 203.1 379.2 207.7C380.4 210.8 382.3 213.6 383.7 216.6C385.0 219.5 386.6 222.4 387.5 225.4C388.1 227.4 389.0 229.7 388.1 231.5C387.6 232.5 385.9 230.7 385.3 229.9C383.6 227.5 382.7 224.7 381.4 222.1C380.0 219.2 378.7 216.1 377.0 213.3C375.4 210.6 372.8 208.4 371.5 205.5C369.8 201.7 368.2 193.4 368.2 193.4Z"/>
<path fill="#00F0FF" d="M382.0 193.4L385.9 193.4C385.9 193.4 389.2 203.1 391.4 207.7C392.9 210.9 395.4 213.5 396.9 216.6C398.3 219.4 399.5 222.4 400.2 225.4C400.8 227.4 401.6 229.6 400.8 231.5C400.5 232.4 398.6 231.7 398.0 231.0C396.2 228.7 395.5 225.8 394.2 223.2C392.5 219.9 390.9 216.6 389.2 213.3C387.8 210.6 385.8 208.3 384.8 205.5C383.3 201.6 382.0 193.4 382.0 193.4Z"/>
<path fill="#F0FF00" d="M349.4 218.3C349.4 218.3 356.2 218.3 359.3 219.4C361.2 220.0 362.5 221.7 363.7 223.2C364.9 224.5 366.1 226.0 366.5 227.7C366.7 228.5 366.2 229.8 365.4 229.9C364.0 230.0 362.8 228.8 361.5 228.2C360.2 227.7 359.0 226.9 357.7 226.5C354.9 225.8 349.4 224.9 349.4 224.9L349.4 218.3Z"/>
<path fill="#F0FF00" d="M349.4 241.5C349.4 241.5 357.6 242.5 361.5 243.7C364.3 244.5 366.5 246.6 369.3 247.6C370.9 248.1 372.7 248.7 374.3 248.1C375.6 247.6 375.7 245.3 377.0 244.8C378.1 244.4 379.2 246.0 380.3 245.9C381.6 245.8 383.0 245.3 383.7 244.2C384.5 243.0 384.6 241.3 384.2 239.8C383.5 237.2 380.7 235.3 380.3 232.6C380.2 231.2 382.6 234.4 383.7 235.4C385.2 237.0 386.1 239.4 388.1 240.4C389.4 241.0 391.3 240.7 392.5 239.8C393.9 238.8 393.6 235.7 395.3 235.4C396.9 235.1 397.5 238.5 399.1 238.7C400.8 238.9 402.0 237.0 403.6 236.5C406.8 235.5 410.1 234.6 413.5 234.3C416.5 234.0 419.4 234.8 422.4 234.8C425.3 234.9 428.3 234.7 431.2 234.8C433.4 234.9 435.8 234.5 437.9 235.4C439.5 236.1 441.0 237.6 441.7 239.3C442.4 240.8 442.4 242.7 441.7 244.2C441.0 246.1 439.6 247.8 437.9 248.7C434.8 250.1 431.3 250.3 427.9 250.9C424.6 251.4 421.1 250.9 417.9 252.0C416.7 252.4 417.0 255.0 415.7 255.3C412.9 256.0 409.7 253.9 406.9 254.8C405.5 255.2 406.2 258.5 404.7 258.6C402.8 258.8 401.8 256.3 400.2 255.3C398.8 254.4 397.5 253.1 395.8 253.1C394.9 253.1 393.9 254.4 394.2 255.3C394.8 257.8 396.4 260.0 398.0 261.9C399.6 263.7 402.2 264.4 403.6 266.4C405.7 269.5 408.0 276.7 408.0 276.7L349.4 276.7L349.4 241.5Z"/>
<path fill="#00FF50" d="M388.1 256.4C388.2 255.8 389.2 255.6 389.7 255.9C390.4 256.3 391.0 257.3 390.8 258.1C390.7 258.6 389.7 258.9 389.2 258.6C388.5 258.2 387.9 257.2 388.1 256.4Z"/>
<path fill="#FFCC00" d="M349.4 246.5C349.4 246.5 357.5 246.3 361.5 247.0C364.2 247.5 366.6 249.0 369.3 249.8C371.1 250.3 373.0 250.5 374.8 250.9C376.3 251.2 378.0 251.1 379.2 252.0C381.1 253.4 382.5 255.5 383.7 257.5C384.4 258.9 385.3 260.5 384.8 261.9C384.0 263.9 382.2 265.5 380.3 266.4C378.0 267.5 375.2 267.7 372.6 267.5C370.3 267.3 368.1 266.1 366.0 265.3C364.1 264.6 362.4 262.9 360.4 263.1C356.6 263.3 349.4 266.4 349.4 266.4L349.4 246.5Z"/>
<path fill="#FF9900" d="M364.3 254.8C364.8 253.5 366.9 253.9 368.2 254.2C369.8 254.7 371.4 255.7 372.6 257.0C373.6 258.0 374.5 259.4 374.8 260.8C375.1 261.9 375.3 263.7 374.3 264.2C373.1 264.8 371.6 263.7 370.4 263.1C368.8 262.2 367.0 261.2 366.0 259.7C364.9 258.3 363.6 256.4 364.3 254.8Z"/>
<path fill="#FFCC00" d="M396.9 242.6C397.0 242.0 398.1 241.7 398.6 242.0C399.9 243.2 400.7 244.8 401.4 246.5C401.9 247.9 402.2 249.4 401.9 250.9C401.8 251.5 400.7 251.8 400.2 251.4C399.1 250.5 398.6 249.0 398.0 247.6C397.4 246.0 396.8 244.3 396.9 242.6Z"/>
<path fill="#FFCC00" d="M405.2 242.6C405.7 241.3 407.7 240.6 409.1 240.9C410.8 241.3 412.0 242.8 413.0 244.2C413.8 245.5 414.6 247.3 414.1 248.7C413.6 249.8 411.9 250.0 410.8 249.8C409.3 249.6 407.8 248.7 406.9 247.6C405.8 246.2 404.7 244.2 405.2 242.6Z"/>
<path fill="#FFCC00" d="M414.6 238.7C415.2 238.0 416.5 237.8 417.4 238.2C419.0 238.8 420.2 240.2 421.3 241.5C422.1 242.4 423.1 243.6 422.9 244.8C422.8 245.7 421.6 246.5 420.7 246.5C419.3 246.5 418.0 245.6 416.8 244.8C415.9 244.1 415.0 243.1 414.6 242.0C414.3 241.0 414.0 239.6 414.6 238.7Z"/>
<path fill="#FFCC00" d="M424.0 240.9C424.3 240.2 425.5 240.1 426.2 240.4C427.4 240.7 428.6 241.5 429.0 242.6C429.3 243.4 428.7 244.6 427.9 244.8C426.9 245.1 425.8 244.4 425.1 243.7C424.4 243.0 423.7 241.9 424.0 240.9Z"/>
<path fill="#F0FF00" d="M451.1 232.1C451.2 231.2 452.0 229.5 452.8 229.9C453.8 230.4 453.5 232.1 453.3 233.2C453.3 233.8 452.8 235.1 452.2 234.8C451.4 234.4 451.0 233.1 451.1 232.1Z"/>
<path fill="#F0FF00" d="M445.0 253.1C445.4 251.2 446.1 248.8 447.8 248.1C449.0 247.6 448.1 250.7 447.8 252.0C447.5 253.7 447.8 256.3 446.2 257.0C444.9 257.5 444.8 254.4 445.0 253.1Z"/>
<path fill="#F0FF00" d="M448.9 257.5C449.2 255.4 450.9 253.7 452.2 252.0C452.8 251.3 454.0 249.5 454.5 250.3C455.2 251.8 454.5 253.7 453.9 255.3C453.3 256.8 452.6 258.5 451.1 259.2C450.3 259.6 448.8 258.4 448.9 257.5Z"/>
<path fill="#00F0FF" d="M414.1 261.4C414.0 260.8 415.4 261.5 415.7 261.9C416.7 263.2 417.7 264.7 417.9 266.4C418.0 266.9 416.6 266.8 416.3 266.4C415.2 264.9 414.3 263.2 414.1 261.4Z"/>
<path fill="#00F0FF" d="M441.2 276.7C441.2 276.7 442.5 269.4 444.5 266.4C445.1 265.4 446.8 266.7 447.8 266.4C449.1 266.0 449.8 264.1 451.1 264.2C455.1 264.5 462.6 267.5 462.6 267.5L462.6 276.7L441.2 276.7Z"/>
<path fill="#F0FF00" d="M425.7 266.9C425.8 266.3 427.2 266.9 427.3 267.5C428.0 270.5 427.9 276.7 427.9 276.7L426.2 276.7C426.2 276.7 425.3 270.2 425.7 266.9Z"/>
<path fill="#00FF50" d="M364.3 276.7C364.3 276.7 362.6 268.4 365.4 268.4C368.3 268.4 367.6 276.7 367.6 276.7L364.3 276.7Z"/>
</g>
<g clip-path="url(#t6)">
<rect x="456" y="200" width="100" height="70" fill="#00FF50"/>
<path fill="#F0FF00" d="M449.4 193.4L467.1 193.4C467.1 193.4 466.2 201.6 464.8 205.5C464.3 207.1 462.9 208.4 461.5 209.4C460.6 210.1 459.4 210.5 458.2 210.5C455.2 210.5 449.4 209.4 449.4 209.4L449.4 193.4Z"/>
<path fill="#F0FF00" d="M485.9 193.4L562.6 193.4L562.6 221.0C562.6 221.0 555.0 219.5 551.1 219.4C548.9 219.3 546.7 220.4 544.5 220.5C542.3 220.6 539.9 220.8 537.9 219.9C536.0 219.1 535.2 216.6 533.4 215.5C531.4 214.3 529.1 213.5 526.8 213.3C523.9 213.0 520.8 214.4 517.9 213.8C515.4 213.3 513.6 211.0 511.3 210.0C509.2 209.0 506.9 208.3 504.7 207.7C502.5 207.2 500.3 207.0 498.0 206.6C495.1 206.2 492.0 206.5 489.2 205.5C487.9 205.1 486.8 204.0 486.4 202.8C485.6 199.7 485.9 193.4 485.9 193.4Z"/>
<path fill="#FFCC00" d="M496.9 193.4L562.6 193.4L562.6 216.6C562.6 216.6 554.2 215.5 550.0 215.5C547.4 215.5 544.9 216.6 542.3 216.6C540.4 216.6 538.3 216.5 536.8 215.5C535.2 214.5 535.0 212.1 533.4 211.1C531.5 209.8 529.1 209.1 526.8 208.8C523.9 208.5 520.8 210.0 517.9 209.4C515.8 209.0 514.4 206.9 512.4 206.1C510.3 205.2 508.0 205.0 505.8 204.4C503.9 203.9 501.5 204.3 500.2 202.8C498.2 200.2 496.9 193.4 496.9 193.4Z"/>
<path fill="#FF9900" d="M503.6 193.4L509.1 193.4C509.1 193.4 509.2 199.1 508.0 201.7C507.6 202.5 505.7 202.5 505.2 201.7C503.9 199.2 503.6 193.4 503.6 193.4Z"/>
<path fill="#FF9900" d="M515.2 193.4L530.1 193.4C530.1 193.4 530.4 200.3 529.0 203.3C528.3 204.8 526.2 205.2 524.6 205.5C522.4 206.0 520.1 206.2 517.9 205.5C516.7 205.2 515.5 204.0 515.2 202.8C514.5 199.7 515.2 193.4 515.2 193.4Z"/>
<path fill="#FF9900" d="M537.3 207.7C538.1 206.1 539.7 205.0 541.2 203.9C542.9 202.6 545.1 202.0 546.7 200.6C548.9 198.5 552.2 193.4 552.2 193.4C552.2 193.4 553.6 199.2 553.9 202.2C554.0 203.7 554.3 205.5 553.3 206.6C552.0 208.3 549.8 209.1 547.8 210.0C545.7 210.8 543.5 211.5 541.2 211.6C540.0 211.7 538.7 211.3 537.9 210.5C537.2 209.8 536.9 208.6 537.3 207.7Z"/>
<path fill="#00F0FF" d="M488.1 218.8C488.6 217.2 489.3 215.7 490.3 214.4C491.2 213.2 492.2 211.7 493.6 211.6C494.9 211.5 495.6 213.8 496.9 213.8C499.2 214.0 501.3 212.3 503.6 212.2C505.4 212.1 507.5 212.4 509.1 213.3C510.9 214.3 511.7 216.8 513.5 217.7C515.2 218.5 517.2 218.4 519.1 218.3C521.0 218.1 522.7 216.6 524.6 216.6C526.2 216.6 527.8 217.3 529.0 218.3C530.8 219.7 531.7 222.2 533.4 223.8C534.7 225.0 536.1 226.5 537.9 226.5C540.3 226.5 542.2 224.6 544.5 223.8C546.3 223.1 548.1 221.8 550.0 222.1C551.6 222.4 552.7 224.0 553.3 225.4C554.1 227.1 554.5 229.2 553.9 231.0C553.3 232.8 551.7 234.4 550.0 235.4C548.1 236.5 545.7 236.9 543.4 237.1C541.2 237.2 538.7 237.5 536.8 236.5C535.1 235.7 534.5 233.6 533.4 232.1C532.6 230.8 532.7 228.3 531.2 228.2C528.8 228.1 527.0 230.8 524.6 231.5C522.5 232.1 520.2 232.0 517.9 232.1C515.7 232.2 513.4 232.9 511.3 232.1C509.7 231.5 509.6 228.9 508.0 228.2C506.6 227.6 505.0 228.4 503.6 228.8C502.0 229.1 500.7 230.8 499.1 230.4C497.2 229.9 496.0 228.1 494.7 226.5C494.1 225.8 494.6 224.0 493.6 223.8C492.4 223.5 491.2 224.6 490.3 225.4C488.9 226.7 488.1 228.4 487.0 229.9C486.5 230.5 485.7 232.2 485.3 231.5C484.7 230.4 485.6 228.9 485.9 227.7C486.5 224.7 487.1 221.7 488.1 218.8Z"/>
<path fill="#0028FF" d="M499.1 222.1C499.5 220.5 500.2 218.9 501.4 217.7C502.3 216.7 503.8 215.8 505.2 216.0C506.3 216.3 506.8 217.7 506.9 218.8C507.0 220.3 506.6 221.9 505.8 223.2C505.0 224.5 503.8 225.6 502.5 226.0C501.5 226.3 500.3 225.6 499.7 224.9C499.1 224.2 498.9 223.0 499.1 222.1Z"/>
<path fill="#0028FF" d="M517.9 225.4C518.1 224.0 519.0 222.5 520.2 221.6C521.4 220.6 523.0 219.7 524.6 219.9C526.0 220.1 527.4 221.3 527.9 222.7C528.4 224.1 528.1 225.8 527.3 227.1C526.5 228.5 525.0 229.5 523.5 229.9C522.2 230.1 520.7 229.6 519.6 228.8C518.6 228.0 517.9 226.7 517.9 225.4Z"/>
<path fill="#0028FF" d="M541.2 231.0C541.4 229.7 542.3 228.5 543.4 227.7C544.1 227.1 545.3 226.7 546.2 227.1C547.1 227.6 547.9 228.8 547.8 229.9C547.7 231.0 546.6 232.1 545.6 232.6C544.6 233.2 543.3 233.4 542.3 233.0C541.6 232.7 541.0 231.7 541.2 231.0Z"/>
<path fill="#00F0FF" d="M449.4 216.6C449.4 216.6 456.0 214.9 459.3 214.9C460.6 214.9 462.0 215.5 462.6 216.6C463.3 217.9 463.3 219.7 462.6 221.0C462.0 222.3 460.7 223.4 459.3 223.8C456.1 224.7 449.4 224.9 449.4 224.9L449.4 216.6Z"/>
<path fill="#00F0FF" d="M477.0 207.7C477.3 206.0 478.5 204.5 479.8 203.3C480.3 202.8 481.7 202.6 482.0 203.3C482.5 204.5 482.0 206.0 481.4 207.2C480.8 208.5 480.1 210.3 478.7 210.5C477.6 210.6 476.9 208.8 477.0 207.7Z"/>
<path fill="#F0FF00" d="M467.1 212.2C467.2 211.1 467.8 210.0 468.7 209.4C469.2 209.1 469.9 210.0 469.8 210.5C469.7 211.7 469.2 213.2 468.2 213.8C467.6 214.2 467.0 212.8 467.1 212.2Z"/>
<path fill="#F0FF00" d="M477.0 221.6C477.0 220.2 478.1 219.0 479.2 218.3C479.7 217.9 480.9 218.2 480.9 218.8C480.9 220.2 480.4 221.9 479.2 222.7C478.6 223.2 477.0 222.4 477.0 221.6Z"/>
<path fill="#F0FF00" d="M457.1 232.1C457.4 231.0 457.9 230.0 458.8 229.3C459.1 229.1 459.9 229.5 459.9 229.9C459.9 231.4 459.5 233.0 458.8 234.3C458.5 234.8 457.5 235.3 457.1 234.8C456.6 234.1 456.8 233.0 457.1 232.1Z"/>
<path fill="#F0FF00" d="M466.0 236.5C466.5 234.9 467.8 233.6 469.3 232.6C470.6 231.8 472.2 231.4 473.7 231.5C474.4 231.6 475.0 232.6 474.8 233.2C474.2 234.9 472.9 236.4 471.5 237.6C470.2 238.7 468.7 240.1 467.1 239.8C465.9 239.6 465.6 237.6 466.0 236.5Z"/>
<path fill="#F0FF00" d="M485.3 242.6C485.7 240.9 486.8 239.4 488.1 238.2C488.4 237.9 489.3 238.3 489.2 238.7C488.8 240.5 488.3 242.4 487.0 243.7C486.5 244.2 485.2 243.2 485.3 242.6Z"/>
<path fill="#00F0FF" d="M457.7 244.2C458.1 242.8 458.8 241.4 459.9 240.4C460.2 240.1 461.0 240.5 461.0 240.9C461.0 243.2 460.9 245.6 459.9 247.6C459.5 248.2 458.1 248.2 457.7 247.6C457.0 246.6 457.3 245.3 457.7 244.2Z"/>
<path fill="#00F0FF" d="M465.4 250.3C466.2 248.7 467.9 247.6 469.3 246.5C470.3 245.6 471.3 244.5 472.6 244.2C473.2 244.1 474.3 244.7 474.3 245.4C474.3 247.3 474.2 249.8 472.6 250.9C471.6 251.6 471.6 248.1 470.4 248.1C468.9 248.1 468.4 250.3 467.1 250.9C466.5 251.1 465.1 250.9 465.4 250.3Z"/>
<path fill="#00F0FF" d="M477.0 254.8C477.2 253.5 477.9 252.4 478.7 251.4C478.9 251.2 479.8 251.1 479.8 251.4C479.6 252.8 479.0 254.2 478.1 255.3C477.9 255.6 477.0 255.2 477.0 254.8Z"/>
<path fill="#F0FF00" d="M449.4 257.5C449.4 257.5 455.9 253.7 459.3 252.0C460.0 251.7 461.1 250.8 461.5 251.4C462.2 252.5 462.0 254.1 461.5 255.3C460.8 257.3 460.2 260.0 458.2 260.8C455.5 262.1 449.4 260.8 449.4 260.8L449.4 257.5Z"/>
<path fill="#F0FF00" d="M464.3 259.7C464.6 258.6 465.5 257.6 466.5 257.0C466.9 256.8 467.2 257.7 467.1 258.1C466.8 259.1 466.3 260.3 465.4 260.8C465.0 261.1 464.2 260.2 464.3 259.7Z"/>
<path fill="#F0FF00" d="M493.1 246.5C493.3 244.5 493.8 242.6 494.7 240.9C495.9 238.9 497.4 237.0 499.1 235.4C500.4 234.3 501.9 233.0 503.6 233.2C505.1 233.4 506.5 235.0 506.9 236.5C507.3 238.3 506.6 240.4 505.8 242.0C504.7 244.1 502.9 245.8 501.4 247.6C500.0 249.1 498.8 251.1 496.9 252.0C495.9 252.5 494.3 252.4 493.6 251.4C492.7 250.1 492.9 248.1 493.1 246.5Z"/>
<path fill="#F0FF00" d="M507.4 244.2C508.6 242.1 511.5 241.7 513.5 240.4C516.1 238.7 518.5 236.8 521.3 235.4C523.4 234.4 525.6 233.2 527.9 233.2C529.4 233.2 531.1 234.1 531.8 235.4C532.6 237.0 532.5 239.2 531.8 240.9C530.8 243.2 528.8 245.0 526.8 246.5C524.8 248.0 522.5 248.9 520.2 249.8C518.0 250.6 515.8 251.4 513.5 251.4C511.8 251.4 509.7 251.1 508.5 249.8C507.3 248.3 506.6 245.9 507.4 244.2Z"/>
<path fill="#FFCC00" d="M513.0 245.4C514.1 243.5 516.2 242.2 517.9 240.9C519.7 239.7 521.4 238.2 523.5 237.6C524.7 237.2 526.5 237.2 527.3 238.2C528.2 239.1 528.0 240.9 527.3 242.0C526.2 243.9 524.3 245.3 522.4 246.5C520.5 247.6 518.4 248.3 516.3 248.7C515.4 248.8 514.2 248.8 513.5 248.1C512.9 247.5 512.5 246.2 513.0 245.4Z"/>
<path fill="#F0FF00" d="M534.5 246.5C535.7 244.4 538.0 243.2 540.1 242.0C542.5 240.6 545.1 239.3 547.8 238.7C552.7 237.6 562.6 237.1 562.6 237.1L562.6 253.1C562.6 253.1 554.2 253.7 550.0 254.2C548.2 254.4 546.4 255.3 544.5 255.3C542.6 255.3 540.7 255.0 539.0 254.2C537.4 253.5 535.9 252.4 535.1 250.9C534.4 249.6 533.8 247.8 534.5 246.5Z"/>
<path fill="#FFCC00" d="M538.4 248.7C539.0 246.5 541.5 245.3 543.4 244.2C545.4 243.1 547.7 242.2 550.0 242.0C551.3 242.0 552.9 242.5 553.3 243.7C553.8 244.9 553.1 246.5 552.2 247.6C550.8 249.3 548.8 250.6 546.7 251.4C545.0 252.1 542.9 252.6 541.2 252.0C539.8 251.5 538.0 250.1 538.4 248.7Z"/>
<path fill="#00F0FF" d="M506.9 259.7C507.4 257.7 509.4 256.2 511.3 255.3C513.3 254.3 515.7 254.3 517.9 254.2C520.2 254.1 522.6 253.9 524.6 254.8C526.1 255.4 527.1 257.2 527.9 258.6C528.6 259.8 527.9 261.8 529.0 262.5C530.3 263.3 532.0 262.3 533.4 261.9C535.7 261.4 537.9 260.6 540.1 259.7C542.7 258.7 545.1 257.0 547.8 256.4C552.7 255.3 562.6 254.8 562.6 254.8L562.6 276.7L505.8 276.7C505.8 276.7 505.5 265.2 506.9 259.7Z"/>
<path fill="#0028FF" d="M509.7 265.3C509.5 263.5 510.3 261.7 511.3 260.3C512.2 259.0 513.6 257.8 515.2 257.5C516.4 257.3 517.8 258.1 518.5 259.2C519.3 260.4 519.6 262.2 519.1 263.6C518.5 265.1 517.1 266.2 515.7 266.9C514.6 267.6 513.1 268.0 511.9 267.7C510.8 267.4 509.7 266.4 509.7 265.3Z"/>
<path fill="#0028FF" d="M539.0 266.4C539.0 265.0 540.1 263.8 541.2 263.1C542.4 262.2 544.1 261.7 545.6 261.9C546.9 262.1 548.4 262.9 548.9 264.2C549.5 265.5 548.7 267.1 548.4 268.6C547.6 271.3 545.6 276.7 545.6 276.7L540.6 276.7C540.6 276.7 538.8 269.8 539.0 266.4Z"/>
<path fill="#00F0FF" d="M490.3 266.4C490.8 263.3 492.1 260.3 493.6 257.5C494.7 255.6 496.2 253.9 498.0 252.5C499.1 251.8 500.6 251.1 501.9 251.4C503.0 251.7 504.0 253.0 504.1 254.2C504.2 256.1 503.2 258.0 502.5 259.7C501.5 262.0 499.9 264.0 499.1 266.4C498.1 269.7 496.9 276.7 496.9 276.7L490.3 276.7C490.3 276.7 489.7 269.8 490.3 266.4Z"/>
<path fill="#0028FF" d="M493.1 266.4C493.4 264.1 494.2 261.8 495.3 259.7C496.0 258.3 497.1 256.9 498.6 256.2C499.3 255.8 500.6 256.2 500.8 257.0C501.3 258.6 500.9 260.4 500.2 261.9C499.5 263.8 498.3 265.5 496.9 266.9C496.2 267.6 495.1 268.2 494.2 268.0C493.5 267.9 493.0 267.0 493.1 266.4Z"/>
<path fill="#00F0FF" d="M479.8 276.7C479.8 276.7 481.2 265.3 482.5 259.7C483.2 257.0 484.3 254.3 485.9 252.0C486.5 251.1 487.7 249.7 488.6 250.3C489.7 251.1 489.4 252.9 489.2 254.2C488.8 256.9 487.6 259.3 487.0 261.9C485.9 266.8 484.2 276.7 484.2 276.7L479.8 276.7Z"/>
<path fill="#00F0FF" d="M466.5 276.7C466.5 276.7 464.5 267.5 467.6 267.5C470.7 267.5 468.7 276.7 468.7 276.7L466.5 276.7Z"/>
<path fill="#F0FF00" d="M499.1 276.7C499.1 276.7 497.7 267.5 500.8 267.5C503.9 267.5 502.5 276.7 502.5 276.7L499.1 276.7Z"/>
</g>
<g clip-path="url(#t7)">
<rect x="556" y="200" width="100" height="70" fill="#F0FF00"/>
<path fill="#FFCC00" d="M549.4 193.4L560.4 193.4C560.4 193.4 559.0 202.4 561.5 205.5C563.2 207.6 566.7 204.3 569.3 204.4C573.0 204.5 576.7 205.3 580.3 206.1C583.4 206.8 586.6 207.2 589.2 208.8C591.2 210.1 591.9 212.8 593.6 214.4C595.6 216.2 597.8 217.8 600.2 218.8C603.0 220.0 606.1 220.9 609.1 221.0C611.4 221.1 613.5 219.8 615.7 219.4C617.9 218.9 620.1 218.3 622.4 218.3C625.3 218.3 628.3 218.8 631.2 219.4C633.5 219.8 635.6 221.1 637.9 221.0C641.3 220.9 644.4 219.1 647.8 218.8C652.7 218.4 662.6 218.8 662.6 218.8L662.6 237.6C662.6 237.6 652.7 237.9 647.8 237.6C645.2 237.5 642.7 236.8 640.1 236.5C637.1 236.1 634.1 235.9 631.2 235.4C628.2 234.8 625.4 233.2 622.4 233.2C619.3 233.2 616.5 235.0 613.5 235.4C611.0 235.7 608.3 236.0 605.8 235.4C603.4 234.8 601.1 233.5 599.1 232.1C597.0 230.5 595.8 227.9 593.6 226.5C591.6 225.3 589.2 225.0 587.0 224.3C584.0 223.5 581.2 222.2 578.1 222.1C575.5 222.0 573.0 223.8 570.4 223.8C568.1 223.8 565.7 223.2 563.7 222.1C561.9 221.1 561.2 218.6 559.3 217.7C556.2 216.3 549.4 215.5 549.4 215.5L549.4 193.4Z"/>
<path fill="#FFCC00" d="M594.2 193.4L608.0 193.4C608.0 193.4 610.0 200.3 608.5 203.3C607.6 205.2 604.5 204.5 602.5 204.4C600.2 204.3 597.2 204.6 595.8 202.8C593.9 200.2 594.2 193.4 594.2 193.4Z"/>
<path fill="#FFCC00" d="M637.9 214.4C638.1 213.1 639.9 212.5 641.2 212.2C643.3 211.6 645.6 211.7 647.8 211.6C652.8 211.5 662.6 211.6 662.6 211.6L662.6 218.8C662.6 218.8 647.5 219.0 640.1 217.7C638.8 217.5 637.6 215.7 637.9 214.4Z"/>
<path fill="#FF9900" d="M573.1 212.2C573.5 211.0 574.7 210.0 575.9 210.0C577.8 209.8 579.8 210.7 581.4 211.6C582.8 212.4 584.2 213.5 584.8 214.9C585.1 215.9 584.6 217.5 583.7 217.7C581.8 218.2 579.9 217.1 578.1 216.6C576.8 216.2 575.3 215.9 574.3 214.9C573.5 214.3 572.8 213.1 573.1 212.2Z"/>
<path fill="#FF9900" d="M616.3 226.0C616.5 224.6 617.7 223.3 619.1 222.7C620.7 221.9 622.7 221.9 624.6 222.1C626.9 222.4 629.1 223.3 631.2 224.3C633.6 225.5 635.9 227.0 637.9 228.8C639.0 229.8 640.6 231.0 640.6 232.6C640.6 233.8 639.0 234.7 637.9 234.8C635.6 235.1 633.4 234.2 631.2 233.7C628.6 233.2 626.0 232.9 623.5 232.1C621.5 231.4 619.5 230.6 617.9 229.3C617.0 228.5 616.1 227.2 616.3 226.0Z"/>
<path fill="#FF6600" d="M622.9 227.1C623.2 226.3 624.4 225.7 625.1 226.0C626.4 226.4 627.5 227.5 627.9 228.8C628.2 229.5 627.6 230.9 626.8 231.0C625.7 231.1 624.8 230.1 624.0 229.3C623.4 228.7 622.7 227.9 622.9 227.1Z"/>
<path fill="#00FF50" d="M549.4 222.1C549.4 222.1 556.7 225.1 560.4 226.5C562.6 227.5 564.8 228.5 567.1 229.3C569.2 230.1 571.4 231.2 573.7 231.5C576.6 231.9 579.6 231.1 582.5 231.5C584.9 231.9 587.0 232.9 589.2 233.7C592.2 234.9 595.1 236.3 598.0 237.6C600.3 238.7 602.5 239.7 604.7 240.9C607.0 242.3 608.9 244.2 611.3 245.4C613.0 246.2 615.0 247.5 616.8 247.0C618.3 246.6 617.9 244.1 619.1 243.1C620.6 241.8 622.6 240.8 624.6 240.4C627.5 239.7 630.5 240.0 633.4 239.8C636.4 239.6 639.3 239.5 642.3 239.3C644.1 239.1 646.0 238.8 647.8 238.7C652.8 238.6 662.6 238.7 662.6 238.7L662.6 257.5C662.6 257.5 647.6 257.3 640.1 257.5C637.1 257.6 634.1 257.8 631.2 258.6C629.2 259.3 627.2 260.4 625.7 261.9C624.5 263.1 624.9 265.6 623.5 266.4C621.9 267.3 619.8 266.6 617.9 266.4C616.1 266.2 613.8 266.5 612.4 265.3C610.9 264.0 611.1 261.5 610.2 259.7C609.2 257.8 608.1 256.0 606.9 254.2C605.5 252.3 604.5 249.8 602.5 248.7C600.2 247.4 597.3 247.6 594.7 247.6C592.1 247.6 589.6 248.5 587.0 248.7C583.3 248.9 579.6 248.9 575.9 248.7C572.9 248.5 569.8 248.6 567.1 247.6C564.9 246.7 563.6 244.2 561.5 243.1C557.7 241.1 549.4 238.2 549.4 238.2L549.4 222.1Z"/>
<path fill="#00F0FF" d="M622.9 247.6C623.2 246.1 624.4 244.9 625.7 244.2C627.3 243.4 629.3 243.1 631.2 243.1C633.5 243.1 635.6 244.0 637.9 244.2C640.1 244.5 642.3 244.8 644.5 244.8C645.6 244.8 646.7 244.3 647.8 244.2C652.8 244.1 662.6 244.2 662.6 244.2L662.6 254.2C662.6 254.2 649.1 254.2 642.3 254.2C640.1 254.2 637.8 254.5 635.6 254.2C633.4 253.9 631.2 253.2 629.0 252.5C627.5 252.1 625.8 251.9 624.6 250.9C623.6 250.1 622.7 248.8 622.9 247.6Z"/>
<path fill="#0028FF" d="M631.2 248.7C631.5 247.7 632.4 246.7 633.4 246.5C635.2 246.1 637.1 246.6 639.0 247.0C640.9 247.4 642.7 248.1 644.5 248.7C645.6 249.0 646.7 249.7 647.8 249.8C652.7 250.1 662.6 249.8 662.6 249.8L662.6 252.5C662.6 252.5 649.8 252.8 643.4 252.5C641.1 252.4 639.0 251.9 636.8 251.4C635.3 251.1 633.7 251.0 632.3 250.3C631.7 250.0 631.0 249.3 631.2 248.7Z"/>
<path fill="#00FF50" d="M615.7 193.4L662.6 193.4L662.6 206.6C662.6 206.6 649.1 206.4 642.3 206.6C639.3 206.7 636.2 206.8 633.4 207.7C632.7 208.0 633.1 209.2 632.9 210.0C632.4 211.5 632.3 213.2 631.2 214.4C630.1 215.6 628.4 216.5 626.8 216.6C624.9 216.7 622.9 215.9 621.3 214.9C619.6 214.0 617.9 212.7 616.8 211.1C615.8 209.4 615.3 207.5 615.2 205.5C614.9 201.5 615.7 193.4 615.7 193.4Z"/>
<path fill="#00F0FF" d="M620.2 208.8C620.2 207.7 620.4 206.4 621.3 205.5C621.9 204.9 623.2 204.6 624.0 205.0C625.3 205.6 626.3 207.0 626.8 208.3C627.3 209.5 627.6 211.1 626.8 212.2C626.1 213.1 624.6 212.9 623.5 212.7C622.6 212.5 621.9 211.8 621.3 211.1C620.7 210.4 620.2 209.7 620.2 208.8Z"/>
<path fill="#00FF50" d="M578.1 193.4L584.8 193.4C584.8 193.4 585.3 201.3 582.5 201.3C579.5 201.3 578.1 193.4 578.1 193.4Z"/>
<path fill="#00FF50" d="M549.4 249.8C549.4 249.8 557.5 248.4 561.5 249.2C563.5 249.6 565.0 251.4 566.0 253.1C566.9 254.7 566.4 256.9 567.1 258.6C567.9 260.6 569.8 262.1 570.4 264.2C571.6 268.2 572.6 276.7 572.6 276.7L549.4 276.7L549.4 249.8Z"/>
<path fill="#00F0FF" d="M549.4 255.9C549.4 255.9 556.0 255.9 558.8 257.5C560.1 258.3 560.0 260.4 559.9 261.9C559.8 263.9 559.8 266.5 558.2 267.5C555.7 269.1 549.4 268.6 549.4 268.6L549.4 255.9Z"/>
<path fill="#FFCC00" d="M577.0 257.5C577.5 255.9 579.8 255.4 581.4 254.8C583.9 253.9 586.6 253.4 589.2 253.1C591.8 252.8 594.5 252.4 596.9 253.1C598.4 253.5 600.2 254.9 600.2 256.4C600.2 258.0 598.4 259.1 596.9 259.7C594.5 260.8 591.7 260.6 589.2 261.4C587.2 262.0 585.7 264.0 583.7 264.2C582.0 264.3 580.4 263.1 579.2 261.9C578.1 260.8 576.5 259.1 577.0 257.5Z"/>
<path fill="#FFCC00" d="M633.4 276.7C633.4 276.7 632.3 268.9 633.4 265.3C634.0 263.5 636.1 262.6 637.9 261.9C640.0 261.2 642.3 261.4 644.5 261.4C645.6 261.4 646.7 261.9 647.8 261.9C652.8 262.1 662.6 261.9 662.6 261.9L662.6 276.7L633.4 276.7Z"/>
<path fill="#00FF50" d="M570.4 265.3C571.7 263.0 575.5 266.6 578.1 266.9C581.8 267.4 585.5 267.1 589.2 267.5C592.9 267.8 597.0 267.2 600.2 269.1C602.8 270.6 604.7 276.7 604.7 276.7L572.6 276.7C572.6 276.7 568.5 268.6 570.4 265.3Z"/>
</g>
<g clip-path="url(#t8)">
<rect x="256" y="270" width="100" height="70" fill="#F0FF00"/>
<path fill="#FFCC00" d="M249.4 263.4L299.1 263.4C299.1 263.4 301.6 270.6 301.9 274.4C302.0 276.0 301.4 277.8 300.2 278.8C298.8 280.2 296.7 281.2 294.7 281.1C292.7 281.0 291.2 278.8 289.2 278.3C286.7 277.7 284.0 277.6 281.4 277.7C279.2 277.8 277.0 279.1 274.8 278.8C272.4 278.6 270.4 276.9 268.2 276.1C266.0 275.3 263.8 274.2 261.5 273.9C257.5 273.3 249.4 273.3 249.4 273.3L249.4 263.4Z"/>
<path fill="#FF9900" d="M267.1 263.4L270.9 263.4C270.9 263.4 272.1 271.7 269.3 271.7C266.4 271.7 267.1 263.4 267.1 263.4Z"/>
<path fill="#FFCC00" d="M343.4 263.4C343.4 263.4 346.7 268.7 348.9 270.9C349.7 271.6 350.9 271.8 351.9 271.8C352.8 271.7 354.1 271.4 354.5 270.6C355.4 268.3 355.6 263.4 355.6 263.4L343.4 263.4Z"/>
<path fill="#00FF50" d="M308.0 263.4L327.9 263.4C327.9 263.4 332.3 270.8 335.6 273.3C338.1 275.1 341.6 274.5 344.5 275.5C346.8 276.4 348.8 278.1 351.1 278.8C354.9 280.0 362.6 281.1 362.6 281.1L362.6 335.3C362.6 335.3 356.2 333.6 353.3 331.9C351.5 330.9 350.7 328.6 348.9 327.5C346.9 326.3 344.2 326.6 342.3 325.3C340.3 324.0 339.7 321.2 337.9 319.8C336.6 318.9 334.9 319.0 333.4 318.7C331.6 318.3 329.6 318.3 327.9 317.6C325.9 316.8 324.0 315.6 322.4 314.2C321.7 313.7 322.1 312.2 321.3 312.0C319.5 311.6 317.6 312.8 315.7 312.6C313.8 312.4 311.6 312.2 310.2 310.9C308.7 309.6 309.0 307.1 308.0 305.4C307.1 303.8 306.1 302.2 304.7 301.0C303.4 299.9 300.7 300.3 300.2 298.8C299.7 296.9 301.2 294.7 302.5 293.2C303.9 291.6 306.1 290.9 308.0 289.9C310.2 288.7 312.6 288.0 314.6 286.6C315.9 285.7 317.8 284.8 317.9 283.3C318.2 281.3 316.6 279.5 315.7 277.7C313.3 272.9 308.0 263.4 308.0 263.4Z"/>
<path fill="#00F0FF" d="M340.1 299.3C340.7 298.6 342.3 299.1 342.8 299.9C343.4 300.6 342.9 302.0 342.3 302.6C341.8 303.2 340.5 303.2 340.1 302.6C339.5 301.7 339.3 300.1 340.1 299.3Z"/>
<path fill="#00FF50" d="M249.4 280.5C249.4 280.5 261.2 279.1 267.1 280.0C270.0 280.4 272.0 283.4 274.8 284.4C277.3 285.3 280.2 284.4 282.5 285.5C284.4 286.3 285.5 288.4 287.0 289.9C288.3 291.2 290.3 292.1 290.8 293.8C291.2 294.8 289.8 295.7 289.2 296.5C288.1 298.1 287.5 300.1 285.9 301.0C283.9 302.0 281.2 300.5 279.2 301.5C276.5 302.9 275.5 306.7 272.6 307.6C270.7 308.2 269.0 305.3 267.1 305.4C265.0 305.5 263.5 307.5 261.5 308.2C257.6 309.4 249.4 310.9 249.4 310.9L249.4 280.5Z"/>
<path fill="#00FF50" d="M294.7 300.4C295.2 299.9 296.3 299.4 296.9 299.9C297.5 300.3 297.6 301.5 297.2 302.1C296.7 302.6 295.5 302.5 294.9 302.1C294.5 301.8 294.3 300.8 294.7 300.4Z"/>
<path fill="#00FF50" d="M249.4 319.8C249.4 319.8 258.5 320.3 262.6 322.0C264.3 322.7 264.2 325.7 266.0 326.4C268.0 327.2 270.5 326.6 272.6 325.9C274.7 325.1 276.0 322.8 278.1 322.0C280.2 321.1 282.5 321.0 284.8 320.9C288.1 320.7 291.4 320.7 294.7 320.9C297.7 321.1 300.7 321.1 303.6 322.0C305.6 322.6 307.7 323.7 309.1 325.3C310.4 326.8 311.0 328.9 311.3 330.8C312.3 336.1 313.0 346.7 313.0 346.7L249.4 346.7L249.4 319.8Z"/>
<path fill="#00F0FF" d="M249.4 331.9C249.4 331.9 261.2 332.8 267.1 332.5C270.8 332.3 274.4 330.8 278.1 330.3C281.8 329.7 285.5 329.2 289.2 329.2C292.2 329.2 295.3 329.2 298.0 330.3C299.9 331.0 301.9 332.3 302.5 334.2C303.7 338.1 303.0 346.7 303.0 346.7L249.4 346.7L249.4 331.9Z"/>
<path fill="#0028FF" d="M285.3 346.7C285.3 346.7 285.3 340.1 287.0 337.5C287.8 336.2 290.6 335.7 291.4 336.9C293.2 339.7 293.1 346.7 293.1 346.7L285.3 346.7Z"/>
</g>
<g clip-path="url(#t9)">
<rect x="356" y="270" width="100" height="70" fill="#F0FF00"/>
<path fill="#00FF50" d="M349.4 283.3C349.4 283.3 357.9 284.5 361.5 282.7C363.4 281.8 363.0 278.7 363.2 276.6C363.7 272.2 363.7 263.4 363.7 263.4L372.6 263.4C372.6 263.4 374.6 271.5 375.9 275.5C376.4 277.1 376.6 279.3 378.1 280.0C380.2 280.8 382.6 279.0 384.8 279.4C386.8 279.8 388.6 281.0 390.3 282.2C392.0 283.4 393.1 285.3 394.7 286.6C396.4 287.9 399.0 288.2 400.2 289.9C401.8 292.1 400.6 295.8 402.5 297.7C403.5 298.7 405.6 297.4 406.9 296.5C409.1 295.1 409.8 291.3 412.4 291.0C414.8 290.8 416.5 293.6 417.9 295.4C419.2 297.0 420.0 299.0 420.2 301.0C420.2 302.5 418.7 303.8 418.5 305.4C418.3 307.2 420.5 309.7 419.1 310.9C417.8 312.0 416.1 309.5 414.6 308.7C412.7 307.7 411.2 304.9 409.1 305.4C407.0 305.9 407.2 309.3 405.8 310.9C404.6 312.3 403.2 314.1 401.4 314.2C399.3 314.4 397.9 311.8 395.8 311.5C394.3 311.2 392.6 311.6 391.4 312.6C389.8 313.8 390.0 317.0 388.1 317.6C384.2 318.8 379.8 316.5 375.9 317.6C373.9 318.1 373.1 320.6 371.5 322.0C370.1 323.2 368.7 324.4 367.1 325.3C366.0 325.9 364.9 326.4 363.7 326.4C362.8 326.4 361.4 324.4 361.0 325.3C359.8 328.0 361.3 331.3 360.4 334.2C359.9 335.9 358.3 337.2 357.1 338.6C354.6 341.4 349.4 346.7 349.4 346.7L349.4 283.3Z"/>
<path fill="#F0FF00" d="M363.2 285.5C365.2 284.5 366.6 288.4 368.2 289.9C369.7 291.3 371.7 292.4 372.6 294.3C373.3 296.0 373.4 298.2 372.6 299.9C371.8 301.5 369.5 301.9 368.2 303.2C367.1 304.2 366.8 306.9 365.4 306.5C363.9 306.1 363.9 303.6 363.7 302.1C363.4 298.8 363.9 295.4 363.7 292.1C363.7 289.9 361.2 286.5 363.2 285.5Z"/>
<path fill="#00FF50" d="M414.6 263.4L441.2 263.4C441.2 263.4 440.6 270.5 442.3 273.3C443.3 274.9 445.9 274.4 447.8 274.4C452.8 274.4 462.6 273.3 462.6 273.3L462.6 281.1C462.6 281.1 455.7 280.5 452.2 280.5C449.7 280.5 447.1 281.0 444.5 281.1C442.3 281.1 440.1 280.9 437.9 281.1C436.0 281.2 434.1 282.7 432.3 282.2C430.1 281.5 428.6 279.2 426.8 277.7C425.0 276.3 423.3 274.5 421.3 273.3C419.6 272.4 416.8 273.3 415.7 271.7C414.2 269.3 414.6 263.4 414.6 263.4Z"/>
<path fill="#00F0FF" d="M441.2 263.4L462.6 263.4L462.6 272.2C462.6 272.2 454.3 274.2 450.0 274.4C448.1 274.5 446.3 273.7 444.5 273.3C443.6 273.1 442.0 273.7 441.7 272.8C440.7 269.8 441.2 263.4 441.2 263.4Z"/>
<path fill="#FFCC00" d="M383.1 263.4L393.6 263.4C393.6 263.4 394.0 270.3 392.5 273.3C391.8 274.7 389.6 274.5 388.1 274.4C386.8 274.3 385.3 273.9 384.8 272.8C383.5 269.9 383.1 263.4 383.1 263.4Z"/>
<path fill="#FFCC00" d="M398.0 273.3C398.3 272.6 399.7 272.8 400.2 273.3C401.2 274.1 401.8 275.4 401.9 276.6C402.0 277.8 401.9 279.6 400.8 280.0C399.8 280.3 399.0 278.7 398.6 277.7C398.0 276.4 397.5 274.7 398.0 273.3Z"/>
<path fill="#FFCC00" d="M411.3 279.4C411.7 278.3 413.5 278.0 414.6 278.3C416.0 278.6 416.6 280.6 417.9 281.1C419.0 281.4 420.3 280.0 421.3 280.5C422.3 281.1 423.2 282.6 422.9 283.8C422.7 284.9 421.2 285.2 420.2 285.5C418.7 285.8 417.1 286.0 415.7 285.5C414.5 285.0 413.7 283.8 413.0 282.7C412.2 281.7 410.9 280.6 411.3 279.4Z"/>
<path fill="#FFCC00" d="M424.0 282.7C424.4 282.0 425.6 281.8 426.2 282.2C427.9 283.2 429.0 285.0 430.1 286.6C431.0 287.8 432.3 289.0 432.3 290.5C432.3 291.2 430.8 291.4 430.1 291.0C428.7 290.3 427.9 288.8 426.8 287.7C426.1 287.0 425.1 286.4 424.6 285.5C424.1 284.7 423.6 283.6 424.0 282.7Z"/>
<path fill="#FFCC00" d="M442.3 293.2C442.9 292.5 443.6 294.9 444.5 294.9C446.1 294.9 447.6 294.1 448.9 293.2C450.2 292.4 450.8 290.4 452.2 289.9C455.5 288.7 462.6 288.3 462.6 288.3L462.6 303.2C462.6 303.2 454.9 304.0 451.1 303.2C449.6 302.8 449.3 300.5 447.8 299.9C446.8 299.4 445.5 300.8 444.5 300.4C443.4 300.0 442.6 298.8 442.3 297.7C441.8 296.2 441.4 294.4 442.3 293.2Z"/>
<path fill="#FF9900" d="M452.2 295.4C452.5 294.9 453.5 294.5 453.9 294.9C454.5 295.6 454.7 296.8 454.2 297.7C454.0 298.2 452.9 298.1 452.5 297.7C452.0 297.1 451.9 296.1 452.2 295.4Z"/>
<path fill="#FFCC00" d="M379.2 331.9C379.2 330.7 379.9 329.4 380.9 328.6C381.9 327.8 383.4 327.3 384.8 327.5C386.2 327.7 387.5 328.7 388.6 329.7C389.6 330.6 390.7 331.7 390.8 333.1C390.9 334.1 390.1 335.3 389.2 335.8C387.9 336.5 386.2 336.3 384.8 336.4C383.5 336.5 381.9 337.2 380.9 336.4C379.7 335.4 379.2 333.5 379.2 331.9Z"/>
<path fill="#FFCC00" d="M411.3 346.7C411.3 346.7 411.0 340.3 412.4 337.7C413.1 336.3 415.3 336.4 416.8 336.4C418.4 336.4 420.5 336.3 421.3 337.7C422.7 340.3 422.4 346.7 422.4 346.7L411.3 346.7Z"/>
<path fill="#00FF50" d="M406.9 327.5C406.4 326.5 407.0 324.8 408.0 324.2C410.3 322.9 413.6 324.1 415.7 322.5C417.6 321.2 417.9 318.5 419.1 316.5C419.8 315.2 420.9 314.0 421.3 312.6C422.2 308.4 421.5 303.9 422.9 299.9C423.3 298.7 424.3 302.0 424.6 303.2C425.1 305.7 424.1 308.6 425.1 310.9C425.5 311.8 427.0 310.2 427.9 310.4C429.8 310.8 431.5 312.9 433.4 312.6C435.4 312.3 436.2 309.8 437.9 308.7C439.9 307.4 442.0 305.4 444.5 305.4C446.3 305.4 447.1 308.7 448.9 308.7C453.6 308.7 462.6 305.4 462.6 305.4L462.6 346.7L431.2 346.7C431.2 346.7 430.7 338.0 429.0 334.2C428.3 332.7 426.2 331.7 424.6 331.9C423.3 332.2 423.7 335.0 422.4 335.3C420.7 335.5 419.5 333.6 417.9 333.1C416.5 332.5 414.8 332.7 413.5 331.9C412.2 331.2 411.5 329.5 410.2 328.6C409.2 328.0 407.4 328.6 406.9 327.5Z"/>
<path fill="#F0FF00" d="M421.3 328.6C420.8 327.2 421.3 325.3 422.4 324.2C423.8 322.8 425.9 322.2 427.9 322.0C429.4 321.8 430.9 322.6 432.3 323.1C433.9 323.7 435.4 324.3 436.8 325.3C438.2 326.4 439.7 327.6 440.6 329.2C441.6 330.7 442.2 332.4 442.3 334.2C442.4 338.3 441.2 346.7 441.2 346.7L432.3 346.7C432.3 346.7 431.1 337.2 429.0 333.1C428.3 331.6 426.0 332.2 424.6 331.4C423.3 330.7 421.7 330.0 421.3 328.6Z"/>
<path fill="#F0FF00" d="M439.0 324.2C438.9 322.8 439.3 320.7 440.6 320.3C442.0 319.9 444.1 321.1 444.5 322.5C445.2 324.9 443.4 327.3 443.4 329.7C443.4 332.0 443.9 334.2 444.5 336.4C445.4 339.9 447.8 346.7 447.8 346.7L443.4 346.7C443.4 346.7 442.1 336.8 441.2 331.9C440.7 329.3 439.1 326.9 439.0 324.2Z"/>
<path fill="#F0FF00" d="M448.4 330.3C448.5 328.9 448.2 326.0 449.5 326.4C450.9 326.9 450.1 329.4 450.0 330.8C449.9 332.0 450.0 334.5 448.9 334.2C447.7 333.7 448.3 331.6 448.4 330.3Z"/>
<path fill="#00F0FF" d="M452.2 314.2C452.3 312.8 452.6 310.9 453.9 310.4C456.6 309.2 462.6 309.8 462.6 309.8L462.6 323.1C462.6 323.1 455.8 321.9 453.3 319.8C451.9 318.6 452.1 316.1 452.2 314.2Z"/>
<path fill="#00F0FF" d="M448.9 337.5C449.2 335.2 448.9 331.6 451.1 330.8C452.9 330.2 452.2 334.5 452.2 336.4C452.2 339.8 451.1 346.7 451.1 346.7L449.5 346.7C449.5 346.7 448.6 340.5 448.9 337.5Z"/>
<path fill="#00F0FF" d="M429.6 346.7C429.6 346.7 429.4 340.0 431.2 337.5C432.1 336.3 434.7 336.9 435.6 338.0C437.6 340.4 439.0 346.7 439.0 346.7L429.6 346.7Z"/>
<path fill="#FF9900" d="M425.1 336.4C425.2 334.7 425.6 332.9 426.2 331.4C426.4 331.1 427.3 331.0 427.3 331.4C427.7 336.5 427.3 346.7 427.3 346.7L425.7 346.7C425.7 346.7 425.0 339.8 425.1 336.4Z"/>
<path fill="#00F0FF" d="M427.9 336.4C428.0 334.9 428.6 330.5 428.8 331.9C429.4 336.8 429.2 346.7 429.2 346.7L428.1 346.7C428.1 346.7 427.7 339.8 427.9 336.4Z"/>
</g>
<g clip-path="url(#t10)">
<rect x="456" y="270" width="100" height="70" fill="#00FF50"/>
<path fill="#00F0FF" d="M462.6 274.4C462.6 272.9 465.1 272.4 466.0 271.1C467.7 268.7 470.4 263.4 470.4 263.4L474.8 263.4C474.8 263.4 475.1 271.0 473.7 274.4C473.1 276.0 470.8 276.4 469.3 277.2C468.2 277.7 467.0 278.7 466.0 278.3C464.4 277.6 462.6 276.1 462.6 274.4Z"/>
<path fill="#00F0FF" d="M489.2 263.4L495.8 263.4C495.8 263.4 495.2 271.0 493.6 274.4C493.1 275.5 490.7 276.6 490.3 275.5C488.8 271.7 489.2 263.4 489.2 263.4Z"/>
<path fill="#00F0FF" d="M502.5 281.1C502.7 278.8 503.3 276.7 503.6 274.4C504.0 270.7 504.7 263.4 504.7 263.4L513.5 263.4C513.5 263.4 511.5 271.5 510.2 275.5C509.6 277.4 508.9 279.3 508.0 281.1C507.0 283.0 506.0 284.9 504.7 286.6C503.9 287.5 502.3 289.9 501.9 288.8C500.9 286.4 502.2 283.6 502.5 281.1Z"/>
<path fill="#00F0FF" d="M524.6 263.4L562.6 263.4L562.6 271.7C562.6 271.7 554.9 272.4 551.1 273.3C548.8 273.9 546.6 275.0 544.5 276.1C542.9 276.9 541.1 277.4 540.1 278.8C538.7 280.8 539.5 283.8 537.9 285.5C536.8 286.5 534.8 286.0 533.4 285.5C531.7 284.8 530.1 283.6 529.0 282.2C527.8 280.6 527.3 278.6 526.8 276.6C525.8 272.3 524.6 263.4 524.6 263.4Z"/>
<path fill="#F0FF00" d="M449.4 282.2C449.4 282.2 457.5 282.8 461.5 283.3C463.4 283.5 465.2 284.8 467.1 284.4C469.9 283.8 472.1 281.4 474.8 280.5C476.6 279.9 478.8 281.0 480.3 280.0C482.1 278.7 482.4 276.2 483.7 274.4C484.3 273.6 485.5 271.2 485.9 272.2C487.0 274.9 485.6 278.2 486.4 281.1C486.8 282.3 487.9 284.0 489.2 283.8C491.1 283.5 492.3 281.5 493.6 280.0C495.3 277.9 497.0 275.8 498.0 273.3C499.3 270.2 500.2 263.4 500.2 263.4L503.0 263.4C503.0 263.4 502.4 273.8 501.4 278.8C500.7 282.3 499.1 285.5 498.0 288.8C497.2 291.4 497.0 294.1 495.8 296.5C495.1 297.9 494.1 299.6 492.5 299.9C490.9 300.1 489.7 297.3 488.1 297.7C486.1 298.2 485.4 300.9 483.7 302.1C481.6 303.5 479.5 305.0 477.0 305.4C474.4 305.8 471.9 304.7 469.3 304.3C467.1 304.0 464.8 302.6 462.6 303.2C461.3 303.5 461.7 306.1 460.4 306.5C456.9 307.5 449.4 307.1 449.4 307.1L449.4 282.2Z"/>
<path fill="#FFCC00" d="M449.4 288.8C449.4 288.8 458.2 289.4 462.6 289.4C464.9 289.4 467.1 289.3 469.3 288.8C470.9 288.4 472.1 286.7 473.7 286.6C476.3 286.4 479.2 286.4 481.4 287.7C482.9 288.5 483.5 290.5 483.7 292.1C483.9 294.0 483.8 296.3 482.5 297.7C481.2 299.1 478.8 298.7 477.0 299.3C475.1 300.0 473.5 301.6 471.5 301.5C469.4 301.4 468.0 299.1 466.0 298.8C464.1 298.5 462.1 299.0 460.4 299.9C459.7 300.2 460.1 301.9 459.3 302.1C456.1 302.9 449.4 302.6 449.4 302.6L449.4 288.8Z"/>
<path fill="#00F0FF" d="M449.4 311.5C449.4 311.5 458.9 310.2 463.7 310.4C466.0 310.4 468.1 312.0 470.4 312.0C472.7 312.0 474.7 310.3 477.0 310.4C478.7 310.5 479.8 313.0 481.4 312.6C483.5 312.1 483.8 307.7 485.9 308.2C488.0 308.7 487.6 312.3 488.6 314.2C489.4 315.8 490.4 317.2 491.4 318.7C492.4 320.2 493.6 321.6 494.7 323.1C495.5 324.2 496.6 325.1 496.9 326.4C497.2 327.5 497.4 329.4 496.4 329.7C495.3 330.1 494.4 328.4 493.6 327.5C492.5 326.2 492.6 323.4 490.8 323.1C489.4 322.8 489.1 325.4 488.1 326.4C487.0 327.6 485.9 328.7 484.8 329.7C483.0 331.3 481.6 334.2 479.2 334.2C476.9 334.2 475.7 330.9 473.7 329.7C472.0 328.7 470.1 328.0 468.2 327.5C466.7 327.2 465.2 327.7 463.7 327.5C462.6 327.4 461.6 326.2 460.4 326.4C456.6 327.0 449.4 329.7 449.4 329.7L449.4 311.5Z"/>
<path fill="#0028FF" d="M469.8 318.7C469.9 317.5 470.0 316.1 470.9 315.4C471.6 314.8 473.0 314.7 473.7 315.4C474.9 316.4 475.7 318.1 475.9 319.8C476.1 321.1 475.6 322.6 474.8 323.7C474.2 324.4 473.0 325.1 472.0 324.8C471.0 324.4 470.7 323.0 470.4 322.0C470.0 320.9 469.7 319.8 469.8 318.7Z"/>
<path fill="#0028FF" d="M479.2 324.2C479.3 323.0 480.0 321.8 480.9 320.9C481.4 320.3 482.6 319.8 483.1 320.3C484.1 321.3 484.3 322.9 484.2 324.2C484.1 325.4 483.5 326.7 482.5 327.5C482.0 328.0 480.9 328.0 480.3 327.5C479.5 326.7 479.1 325.4 479.2 324.2Z"/>
<path fill="#F0FF00" d="M449.4 334.2C449.4 334.2 457.5 333.8 461.5 333.1C462.7 332.8 463.6 331.2 464.8 331.4C466.0 331.6 466.1 333.5 467.1 334.2C468.7 335.2 470.7 335.7 472.6 336.4C474.4 337.0 476.2 338.2 478.1 338.0C480.2 337.8 481.8 336.2 483.7 335.3C485.1 334.5 486.4 332.8 488.1 333.1C489.6 333.3 490.8 334.9 491.4 336.4C492.8 339.6 494.2 346.7 494.2 346.7L449.4 346.7L449.4 334.2Z"/>
<path fill="#FFCC00" d="M449.4 339.1C449.4 339.1 459.6 337.1 464.8 337.1C469.3 337.1 473.7 338.9 478.1 339.1C481.8 339.3 485.8 336.8 489.2 338.3C492.5 339.6 495.8 346.7 495.8 346.7L449.4 346.7L449.4 339.1Z"/>
<path fill="#FF9900" d="M458.2 346.7C458.2 346.7 457.2 338.8 459.9 338.8C462.5 338.8 461.5 346.7 461.5 346.7L458.2 346.7Z"/>
<path fill="#F0FF00" d="M501.9 313.1C502.2 310.5 502.9 307.9 503.6 305.4C504.4 302.4 505.3 299.5 506.3 296.5C507.2 294.1 507.4 291.3 509.1 289.4C510.1 288.2 512.0 287.9 513.5 288.3C514.7 288.5 515.6 289.8 515.7 291.0C516.0 293.6 515.3 296.3 514.6 298.8C513.9 301.5 512.6 304.0 511.3 306.5C510.0 308.8 508.4 310.9 506.9 313.1C506.0 314.5 505.5 316.2 504.1 317.0C503.5 317.4 502.6 316.5 502.2 315.9C501.8 315.1 501.8 314.1 501.9 313.1Z"/>
<path fill="#F0FF00" d="M546.2 296.5C546.3 294.6 547.1 292.8 547.8 291.0C548.6 288.9 549.0 286.5 550.6 284.9C551.5 284.0 553.8 283.2 554.5 284.4C555.4 286.0 554.0 288.2 553.3 289.9C552.5 291.9 551.2 293.7 550.0 295.4C549.2 296.6 548.6 298.4 547.3 298.8C546.5 299.0 546.1 297.4 546.2 296.5Z"/>
<path fill="#F0FF00" d="M553.3 303.2C555.7 300.9 562.6 299.9 562.6 299.9L562.6 308.7C562.6 308.7 556.8 309.0 554.5 307.6C553.1 306.8 552.2 304.2 553.3 303.2Z"/>
<path fill="#F0FF00" d="M539.5 307.6C539.5 306.7 541.1 305.3 541.7 306.0C542.6 306.9 542.8 309.0 541.7 309.8C540.9 310.4 539.5 308.7 539.5 307.6Z"/>
<path fill="#00F0FF" d="M513.0 322.0C513.3 319.4 513.9 316.8 514.6 314.2C515.0 312.9 515.4 311.4 516.3 310.4C516.9 309.6 518.8 308.3 519.1 309.3C519.5 311.3 518.0 313.3 517.4 315.4C516.7 317.6 515.7 319.7 515.2 322.0C514.5 324.9 514.3 327.9 513.5 330.8C513.4 331.3 512.4 332.5 512.4 331.9C512.2 328.6 512.6 325.3 513.0 322.0Z"/>
<path fill="#F0FF00" d="M513.5 346.7C513.5 346.7 513.0 336.6 514.6 331.9C515.4 329.7 518.3 329.0 520.2 327.5C522.0 326.0 523.9 324.7 525.7 323.1C527.1 321.9 527.8 319.5 529.6 319.2C531.1 319.0 532.1 321.2 533.4 322.0C534.8 322.8 536.2 324.2 537.9 324.2C539.8 324.2 541.6 321.2 543.4 322.0C545.2 322.8 545.0 325.6 545.6 327.5C546.3 329.7 547.0 331.9 547.3 334.2C547.7 338.3 547.8 346.7 547.8 346.7L513.5 346.7Z"/>
<path fill="#0000AA" d="M511.9 333.1C511.9 332.7 512.9 332.7 513.0 333.1C513.4 337.6 513.3 346.7 513.3 346.7L511.9 346.7C511.9 346.7 511.5 337.6 511.9 333.1Z"/>
<path fill="#FF9900" d="M513.3 334.2C513.4 333.4 514.0 335.6 514.1 336.4C514.4 339.8 514.6 346.7 514.6 346.7L513.3 346.7C513.3 346.7 513.0 338.3 513.3 334.2Z"/>
<path fill="#FFCC00" d="M515.7 346.7C515.7 346.7 515.8 340.4 517.9 338.6C519.6 337.1 522.9 337.6 524.6 339.1C526.5 340.9 526.8 346.7 526.8 346.7L515.7 346.7Z"/>
</g>
<g clip-path="url(#t11)">
<rect x="556" y="270" width="100" height="70" fill="#00FF50"/>
<path fill="#00F0FF" d="M573.1 280.0C573.4 277.9 574.4 275.8 575.9 274.4C577.4 273.1 579.5 272.8 581.4 272.2C584.0 271.5 587.1 272.2 589.2 270.6C591.2 268.9 592.5 263.4 592.5 263.4L599.1 263.4C599.1 263.4 599.5 272.3 600.2 276.6C600.6 278.6 601.0 280.9 602.5 282.2C603.9 283.4 606.5 282.1 608.0 283.3C609.7 284.6 610.3 286.9 611.3 288.8C612.5 291.0 613.8 293.1 614.6 295.4C615.5 297.9 616.1 300.6 616.3 303.2C616.4 305.0 617.4 307.8 615.7 308.7C614.0 309.7 612.1 306.1 610.2 306.5C608.2 307.0 607.8 310.6 605.8 310.9C603.7 311.3 602.1 309.1 600.2 308.2C597.7 306.9 595.2 305.3 592.5 304.3C590.0 303.4 587.2 303.7 584.8 302.6C582.3 301.5 580.0 299.7 578.1 297.7C576.3 295.7 574.4 293.6 573.7 291.0C572.7 287.5 572.7 283.6 573.1 280.0Z"/>
<path fill="#F0FF00" d="M605.8 263.4L662.6 263.4L662.6 277.7C662.6 277.7 648.3 277.5 641.2 278.3C638.5 278.6 635.9 279.9 633.4 281.1C631.5 282.0 629.6 283.1 627.9 284.4C626.7 285.3 626.1 287.7 624.6 287.7C622.7 287.7 621.6 285.5 620.2 284.4C618.3 282.9 616.2 281.7 614.6 280.0C613.2 278.3 612.3 276.3 611.3 274.4C609.4 270.8 605.8 263.4 605.8 263.4Z"/>
<path fill="#FFCC00" d="M635.6 263.4L662.6 263.4L662.6 272.8C662.6 272.8 648.7 274.4 642.3 272.2C638.8 271.0 635.6 263.4 635.6 263.4Z"/>
<path fill="#F0FF00" d="M549.4 293.8C549.4 293.8 555.9 292.0 558.8 293.2C560.6 294.0 560.7 296.8 561.0 298.8C561.3 301.3 561.1 304.0 560.4 306.5C560.1 307.5 559.2 308.5 558.2 308.7C555.3 309.3 549.4 308.7 549.4 308.7L549.4 293.8Z"/>
<path fill="#F0FF00" d="M583.1 316.5C583.6 315.7 585.0 315.5 585.9 315.9C586.6 316.2 587.4 317.4 587.0 318.1C586.5 318.9 585.1 319.0 584.2 318.7C583.5 318.3 582.7 317.2 583.1 316.5Z"/>
<path fill="#F0FF00" d="M630.1 313.7C630.1 312.3 632.0 310.7 633.4 310.9C635.4 311.2 636.1 313.9 637.9 314.8C638.5 315.1 639.4 314.7 640.1 314.2C641.7 313.2 642.8 311.3 644.5 310.4C645.5 309.8 646.7 309.9 647.8 309.8C652.8 309.7 662.6 309.8 662.6 309.8L662.6 317.6C662.6 317.6 649.8 318.0 643.4 317.6C642.2 317.5 641.3 315.7 640.1 315.9C638.8 316.1 638.6 318.5 637.3 318.7C635.9 318.9 634.6 317.8 633.4 317.0C632.1 316.1 630.1 315.3 630.1 313.7Z"/>
<path fill="#F0FF00" d="M590.3 334.2C590.3 331.2 590.6 328.2 591.4 325.3C591.9 323.5 592.5 321.2 594.2 320.3C595.1 319.9 594.8 322.6 595.8 323.1C597.9 324.0 600.3 324.9 602.5 324.2C604.8 323.5 605.6 319.8 608.0 319.2C609.7 318.8 611.1 320.8 612.4 322.0C613.8 323.2 615.0 324.7 615.7 326.4C616.5 328.1 617.2 330.1 616.8 331.9C616.4 333.7 614.3 334.7 613.5 336.4C612.0 339.7 610.2 346.7 610.2 346.7L591.4 346.7C591.4 346.7 590.3 338.3 590.3 334.2Z"/>
<path fill="#00F0FF" d="M632.9 329.7C633.2 328.7 634.6 328.1 635.6 328.1C638.6 327.9 641.6 328.6 644.5 329.2C645.6 329.4 646.7 330.2 647.8 330.3C652.7 330.6 662.6 330.3 662.6 330.3L662.6 346.7L634.5 346.7C634.5 346.7 633.8 339.1 633.4 335.3C633.3 333.4 632.3 331.5 632.9 329.7Z"/>
<path fill="#00F0FF" d="M549.4 335.3C549.4 335.3 556.5 333.1 558.8 335.3C561.5 338.0 561.0 346.7 561.0 346.7L549.4 346.7L549.4 335.3Z"/>
</g>
<g clip-path="url(#t12)">
<rect x="256" y="340" width="100" height="70" fill="#F0FF00"/>
<path fill="#00FF50" d="M249.4 353.3C249.4 353.3 258.3 353.1 262.6 353.8C264.7 354.2 266.2 356.0 268.2 356.6C270.3 357.3 272.6 357.6 274.8 357.7C276.3 357.8 278.0 358.0 279.2 357.1C280.9 356.0 281.0 353.5 282.5 352.2C284.1 350.8 286.1 349.8 288.1 349.4C291.3 348.7 294.8 349.8 298.0 348.8C299.5 348.4 300.9 347.0 301.4 345.5C302.5 341.6 302.5 333.4 302.5 333.4L313.0 333.4C313.0 333.4 314.4 340.9 315.7 344.4C316.8 347.2 318.4 349.8 320.2 352.2C321.4 353.9 322.9 355.3 324.6 356.6C325.9 357.6 327.9 357.6 329.0 358.8C330.6 360.7 331.1 363.3 332.3 365.4C333.3 367.0 333.8 369.9 335.6 369.9C337.2 369.9 335.4 366.1 336.8 365.4C338.2 364.7 339.7 366.5 341.2 367.1C343.1 367.9 344.8 369.0 346.7 369.9C348.5 370.7 350.3 372.1 352.2 372.1C355.8 372.1 362.6 369.9 362.6 369.9L362.6 401.9L337.9 401.9C337.9 401.9 337.6 392.7 335.6 388.7C335.0 387.3 332.7 388.4 331.2 388.1C329.0 387.7 326.7 387.3 324.6 386.5C322.6 385.6 320.8 384.4 319.1 383.1C317.1 381.8 315.2 380.4 313.5 378.7C311.9 377.0 310.8 374.8 309.1 373.2C307.5 371.6 305.7 370.0 303.6 369.3C300.7 368.4 297.7 369.1 294.7 368.8C292.1 368.5 289.5 368.3 287.0 367.7C285.4 367.2 284.2 365.8 282.5 365.4C278.9 364.7 275.2 364.2 271.5 364.3C269.2 364.4 267.1 365.8 264.8 366.0C259.7 366.4 249.4 366.0 249.4 366.0L249.4 353.3Z"/>
<path fill="#00F0FF" d="M249.4 333.4L302.5 333.4C302.5 333.4 302.5 341.6 301.4 345.5C300.9 347.0 299.5 348.4 298.0 348.8C294.8 349.8 291.3 348.7 288.1 349.4C286.1 349.8 284.1 350.8 282.5 352.2C281.0 353.5 280.9 356.0 279.2 357.1C278.0 358.0 276.3 357.8 274.8 357.7C272.6 357.6 270.3 357.3 268.2 356.6C266.2 356.0 264.7 354.2 262.6 353.8C258.3 353.1 249.4 353.3 249.4 353.3L249.4 333.4Z"/>
<path fill="#0028FF" d="M285.9 333.4L293.1 333.4C293.1 333.4 293.4 339.3 292.0 341.7C291.3 342.8 288.8 342.4 288.1 341.3C286.5 339.1 285.9 333.4 285.9 333.4Z"/>
<path fill="#FFCC00" d="M249.4 373.2C249.4 373.2 257.5 374.1 261.5 374.3C264.1 374.4 266.7 374.6 269.3 374.3C271.5 374.0 273.6 372.8 275.9 372.6C278.5 372.4 281.3 372.1 283.7 373.2C285.7 374.1 286.8 376.3 288.1 378.2C288.9 379.3 289.7 380.6 289.7 382.0C289.7 383.0 289.0 384.0 288.1 384.2C286.6 384.6 285.1 384.0 283.7 383.7C281.8 383.3 280.0 382.2 278.1 382.0C276.3 381.9 274.4 382.1 272.6 382.6C270.6 383.2 268.9 384.5 267.1 385.4C265.3 386.2 263.5 387.3 261.5 387.6C257.5 388.1 249.4 387.6 249.4 387.6L249.4 373.2Z"/>
<path fill="#F0FF00" d="M337.9 374.3C338.3 373.3 340.2 374.3 341.2 374.8C342.5 375.5 343.9 376.3 344.5 377.6C344.8 378.4 344.1 379.5 343.4 379.8C342.1 380.5 340.0 381.4 339.0 380.4C337.5 378.9 337.1 376.2 337.9 374.3Z"/>
<path fill="#00F0FF" d="M335.1 374.3C335.1 373.9 336.1 373.9 336.2 374.3C337.1 377.5 337.0 381.0 337.9 384.2C338.3 385.8 339.9 387.0 340.1 388.7C340.1 389.2 338.7 389.1 338.4 388.7C337.5 387.4 337.1 385.8 336.8 384.2C336.0 381.0 335.3 377.7 335.1 374.3Z"/>
</g>
<g clip-path="url(#t13)">
<rect x="356" y="340" width="100" height="70" fill="#F0FF00"/>
<path fill="#00FF50" d="M349.4 368.8C349.4 368.8 356.7 366.2 360.4 364.9C361.4 364.6 362.9 364.7 363.2 363.8C363.9 361.5 362.4 358.8 363.2 356.6C363.8 355.0 365.5 354.0 367.1 353.3C369.5 352.1 372.4 352.2 374.8 351.1C377.2 349.9 379.0 347.7 381.4 346.6C383.5 345.8 385.8 345.3 388.1 345.5C390.1 345.7 391.8 348.6 393.6 347.7C395.8 346.6 394.6 341.9 396.9 341.1C398.7 340.5 398.7 344.6 400.2 345.5C401.8 346.5 404.0 346.1 405.8 346.6C407.7 347.2 409.3 348.6 411.3 348.8C413.5 349.1 415.8 348.8 417.9 348.3C420.3 347.7 422.6 346.9 424.6 345.5C425.7 344.8 426.1 341.1 426.8 342.2C428.3 344.8 427.9 348.1 427.9 351.1C427.9 355.5 428.0 360.1 426.8 364.3C426.1 366.6 424.6 369.2 422.4 369.9C420.7 370.4 419.7 367.4 417.9 367.1C415.8 366.7 413.5 367.4 411.3 367.7C409.1 367.9 406.8 367.9 404.7 368.8C403.0 369.4 401.6 370.8 400.2 372.1C398.6 373.7 397.2 375.7 395.8 377.6C395.0 378.7 394.7 380.2 393.6 380.9C392.0 382.0 390.0 382.4 388.1 382.6C384.8 382.9 381.4 382.0 378.1 382.6C376.1 383.0 373.4 383.4 372.6 385.4C370.5 390.5 370.4 401.9 370.4 401.9L349.4 401.9L349.4 368.8Z"/>
<path fill="#F0FF00" d="M362.6 365.4C364.0 364.5 365.9 366.5 367.1 367.7C368.3 368.8 369.8 370.3 369.8 372.1C369.8 373.0 368.0 372.3 367.1 372.1C365.7 371.7 364.0 371.6 363.2 370.4C362.3 369.0 361.3 366.4 362.6 365.4Z"/>
<path fill="#F0FF00" d="M370.4 375.4C371.1 374.5 372.6 373.9 373.7 374.3C375.2 374.8 376.5 376.1 377.0 377.6C377.4 378.7 377.0 380.6 375.9 380.9C374.6 381.3 373.8 379.2 372.6 378.7C371.9 378.4 370.8 379.3 370.4 378.7C369.8 377.8 369.7 376.3 370.4 375.4Z"/>
<path fill="#F0FF00" d="M364.8 380.9C365.1 379.9 366.6 378.9 367.6 379.3C368.9 379.7 369.6 381.3 369.8 382.6C370.0 383.7 369.7 385.2 368.7 385.9C368.0 386.5 366.5 386.1 366.0 385.4C365.0 384.2 364.4 382.4 364.8 380.9Z"/>
<path fill="#00F0FF" d="M401.9 356.6C402.4 355.2 403.3 353.8 404.7 353.3C406.7 352.4 409.1 353.1 411.3 352.7C413.6 352.3 415.7 351.5 417.9 351.1C419.4 350.8 420.9 350.5 422.4 350.5C423.7 350.5 425.7 349.9 426.2 351.1C427.2 353.1 426.4 355.6 425.7 357.7C425.1 359.4 424.0 361.2 422.4 362.1C420.8 363.0 418.7 362.7 416.8 362.7C415.0 362.7 413.2 362.1 411.3 362.1C409.1 362.1 406.8 363.2 404.7 362.7C403.5 362.4 402.9 361.0 402.5 359.9C402.0 358.9 401.6 357.7 401.9 356.6Z"/>
<path fill="#0028FF" d="M422.9 350.0C422.8 348.6 424.5 347.8 425.1 346.6C426.0 345.2 426.3 340.9 427.3 342.2C429.0 344.2 428.3 347.4 427.9 350.0C427.7 351.0 426.7 352.2 425.7 352.2C424.5 352.2 423.0 351.1 422.9 350.0Z"/>
<path fill="#0028FF" d="M415.7 354.9C416.0 354.6 416.8 354.6 417.1 354.9C417.4 355.3 417.4 356.0 417.1 356.4C416.8 356.7 416.0 356.7 415.7 356.4C415.4 356.0 415.4 355.3 415.7 354.9Z"/>
<path fill="#00F0FF" d="M375.4 366.5C375.5 364.9 376.2 363.0 377.6 362.1C378.4 361.6 379.3 363.0 379.8 363.8C380.8 365.3 381.2 367.1 382.0 368.8C382.5 369.9 383.5 370.9 383.7 372.1C383.7 372.5 382.9 372.9 382.5 372.6C381.3 371.6 381.0 369.8 379.8 368.8C379.0 368.2 377.9 368.6 377.0 368.2C376.3 367.9 375.3 367.3 375.4 366.5Z"/>
<path fill="#00FF50" d="M394.2 384.2C394.3 383.0 395.6 381.5 396.9 381.5C398.4 381.5 399.0 383.6 400.2 384.2C401.6 384.9 403.2 385.6 404.7 385.4C406.1 385.2 407.1 383.3 408.5 383.1C410.2 382.9 412.0 383.4 413.5 384.2C414.9 385.0 415.7 386.5 416.8 387.6C417.5 388.2 418.2 389.0 419.1 389.2C419.8 389.4 421.1 387.9 421.3 388.7C422.4 393.0 422.4 401.9 422.4 401.9L394.7 401.9C394.7 401.9 393.5 390.1 394.2 384.2Z"/>
<path fill="#FFCC00" d="M428.5 343.3C429.2 341.7 431.7 344.9 433.4 345.5C435.6 346.4 437.9 347.0 440.1 347.7C442.3 348.5 444.6 351.0 446.7 350.0C448.8 348.9 448.3 345.6 448.9 343.3C449.8 340.0 451.1 333.4 451.1 333.4L462.6 333.4L462.6 366.5C462.6 366.5 455.0 367.9 451.1 367.7C448.8 367.5 446.8 365.4 444.5 365.4C442.8 365.4 441.6 367.1 440.1 367.7C438.6 368.2 437.2 368.9 435.6 368.8C434.0 368.6 432.9 366.5 431.2 366.5C430.2 366.5 429.3 369.8 429.0 368.8C427.9 364.8 428.5 360.7 428.5 356.6C428.4 352.2 426.6 347.4 428.5 343.3Z"/>
<path fill="#FF9900" d="M429.0 347.7C429.9 346.4 431.9 349.0 433.4 349.4C435.6 350.1 438.0 350.2 440.1 351.1C442.1 351.9 444.1 352.9 445.6 354.4C446.4 355.2 447.4 356.8 446.7 357.7C445.5 359.2 443.0 359.2 441.2 359.9C439.7 360.5 438.3 361.8 436.8 361.6C435.3 361.4 434.4 359.9 433.4 358.8C432.2 357.5 430.8 356.1 430.1 354.4C429.3 352.3 427.8 349.6 429.0 347.7Z"/>
<path fill="#00FF50" d="M429.0 333.4L450.0 333.4C450.0 333.4 449.3 341.0 447.8 344.4C447.3 345.7 445.8 346.5 444.5 346.6C442.3 346.9 440.0 346.0 437.9 345.5C436.0 345.1 433.5 345.4 432.3 343.9C430.2 340.9 429.0 333.4 429.0 333.4Z"/>
<path fill="#00F0FF" d="M431.2 333.4L440.1 333.4C440.1 333.4 440.8 339.9 439.0 342.2C437.8 343.7 434.7 343.1 433.4 341.7C431.5 339.5 431.2 333.4 431.2 333.4Z"/>
<path fill="#FFCC00" d="M411.3 333.4L422.4 333.4C422.4 333.4 423.0 340.5 421.3 343.3C420.3 344.9 417.6 344.5 415.7 344.4C414.3 344.3 412.4 344.1 411.9 342.8C410.7 339.9 411.3 333.4 411.3 333.4Z"/>
<path fill="#00FF50" d="M428.5 372.1C429.3 370.3 430.5 368.3 432.3 367.7C433.8 367.2 435.2 369.3 436.8 369.3C438.3 369.3 439.6 367.7 441.2 367.7C443.4 367.5 445.6 368.5 447.8 368.8C452.7 369.3 462.6 369.9 462.6 369.9L462.6 401.9L426.8 401.9C426.8 401.9 426.4 386.4 426.8 378.7C426.9 376.4 427.4 374.1 428.5 372.1Z"/>
<path fill="#00F0FF" d="M426.8 401.9C426.8 401.9 426.7 387.2 427.3 379.8C427.4 378.9 428.1 377.4 429.0 377.6C430.5 377.9 431.0 381.7 432.3 380.9C434.4 379.8 432.7 374.8 435.1 374.3C437.1 373.9 436.2 378.5 437.9 379.8C439.3 381.0 441.5 381.0 443.4 380.9C445.0 380.8 446.3 379.5 447.8 379.3C452.7 378.4 462.6 377.6 462.6 377.6L462.6 387.6C462.6 387.6 455.0 388.2 451.1 388.7C448.9 388.9 446.7 389.8 444.5 389.8C443.0 389.8 441.6 388.7 440.1 388.7C437.8 388.7 434.6 387.8 433.4 389.8C431.4 393.3 432.3 401.9 432.3 401.9L426.8 401.9Z"/>
<path fill="#FFCC00" d="M413.5 375.4C414.2 374.0 416.4 374.3 417.9 374.3C419.5 374.3 420.9 375.0 422.4 375.4C423.3 375.7 424.9 375.5 425.1 376.5C425.8 379.4 425.7 382.6 424.6 385.4C424.2 386.4 422.4 386.8 421.3 386.5C419.8 386.0 418.9 384.4 417.9 383.1C417.0 381.8 416.6 380.1 415.7 378.7C415.1 377.6 412.9 376.6 413.5 375.4Z"/>
<path fill="#FF9900" d="M420.2 382.0C420.3 380.7 421.2 379.3 422.4 378.7C423.1 378.3 424.3 379.0 424.6 379.8C425.0 381.2 424.8 382.9 424.0 384.2C423.7 384.9 422.5 385.2 421.8 384.8C420.9 384.3 420.1 383.1 420.2 382.0Z"/>
<path fill="#FF9900" d="M427.3 333.4L428.5 333.4C428.5 333.4 428.7 348.9 428.5 356.6C428.3 362.1 428.0 367.7 427.3 373.2C426.9 377.3 426.3 381.4 425.1 385.4C425.0 385.9 424.0 384.8 424.0 384.2C424.4 379.8 425.8 375.4 426.2 371.0C426.8 366.2 426.9 361.4 427.0 356.6C427.2 348.9 427.3 333.4 427.3 333.4Z"/>
<path fill="#0028FF" d="M417.9 401.9C417.9 401.9 419.2 393.4 421.3 389.8C421.8 388.8 424.2 389.3 424.6 390.3C425.8 394.0 425.1 401.9 425.1 401.9L417.9 401.9Z"/>
<path fill="#0028FF" d="M429.6 390.3C429.7 389.6 431.6 389.6 431.8 390.3C432.5 394.1 431.8 401.9 431.8 401.9L429.6 401.9C429.6 401.9 428.8 394.1 429.6 390.3Z"/>
</g>
<g clip-path="url(#t14)">
<rect x="456" y="340" width="100" height="70" fill="#F0FF00"/>
<path fill="#FFCC00" d="M449.4 343.3C449.4 343.3 458.5 342.9 462.6 341.1C466.5 339.5 472.6 333.4 472.6 333.4C472.6 333.4 484.1 338.6 489.2 342.2C491.5 343.9 493.9 346.1 494.7 348.8C495.5 351.3 495.0 354.4 493.6 356.6C492.8 357.9 490.3 356.6 489.2 357.7C487.4 359.4 486.9 362.1 485.9 364.3C485.0 366.1 485.5 369.1 483.7 369.9C482.2 370.4 481.4 367.7 480.3 366.5C478.9 365.1 478.0 362.4 475.9 362.1C474.1 361.9 473.0 364.3 471.5 365.4C470.0 366.5 468.9 368.3 467.1 368.8C465.6 369.1 464.0 368.4 462.6 367.7C461.3 366.9 460.9 364.5 459.3 364.3C455.9 364.1 449.4 366.5 449.4 366.5L449.4 343.3Z"/>
<path fill="#F0FF00" d="M464.3 346.6C464.5 345.9 466.3 345.9 466.5 346.6C467.2 349.1 467.2 351.9 466.5 354.4C466.3 355.1 464.5 355.1 464.3 354.4C463.6 351.9 463.6 349.1 464.3 346.6Z"/>
<path fill="#F0FF00" d="M470.4 359.9C470.5 358.6 471.5 355.9 472.6 356.6C474.2 357.6 473.9 360.3 473.7 362.1C473.5 363.4 472.6 366.2 471.5 365.4C469.9 364.4 470.1 361.8 470.4 359.9Z"/>
<path fill="#F0FF00" d="M480.9 346.6C481.0 345.8 482.9 344.7 483.1 345.5C484.1 348.7 484.1 352.2 483.7 355.5C483.5 356.3 481.7 357.4 481.4 356.6C480.5 353.4 480.4 349.9 480.9 346.6Z"/>
<path fill="#FFCC00" d="M499.7 354.4C499.9 352.6 500.3 350.8 501.4 349.4C501.9 348.6 503.3 347.8 504.1 348.3C505.3 349.0 505.6 350.8 505.8 352.2C506.0 354.0 506.0 356.0 505.2 357.7C504.8 358.7 503.5 359.4 502.5 359.4C501.5 359.4 500.7 358.5 500.2 357.7C499.7 356.7 499.5 355.5 499.7 354.4Z"/>
<path fill="#FFCC00" d="M513.5 343.3C514.2 339.7 517.9 333.4 517.9 333.4L527.9 333.4C527.9 333.4 530.6 342.3 532.3 346.6C533.1 348.6 534.5 350.4 535.6 352.2C536.7 353.7 538.6 354.8 539.0 356.6C539.4 358.4 539.2 360.8 537.9 362.1C536.5 363.5 534.0 362.4 532.3 363.2C530.2 364.3 528.6 366.1 526.8 367.7C525.6 368.7 524.9 371.7 523.5 371.0C521.3 369.9 521.2 366.6 520.2 364.3C519.3 362.5 518.8 360.6 517.9 358.8C516.9 356.6 515.3 354.5 514.6 352.2C513.8 349.3 513.0 346.2 513.5 343.3Z"/>
<path fill="#FF9900" d="M514.1 343.3C514.4 342.3 515.5 344.8 516.3 345.5C517.5 346.7 519.3 347.4 520.2 348.8C521.1 350.5 521.4 352.5 521.3 354.4C521.2 356.3 521.3 359.1 519.6 359.9C518.3 360.6 517.5 357.9 516.8 356.6C515.8 354.5 515.1 352.2 514.6 350.0C514.2 347.8 513.3 345.4 514.1 343.3Z"/>
<path fill="#FF6600" d="M515.7 347.7C516.3 347.0 517.9 347.6 518.5 348.3C519.7 349.6 520.5 351.5 520.7 353.3C521.0 354.9 521.3 357.3 519.9 358.3C519.0 359.0 518.3 356.5 517.7 355.5C517.0 354.1 516.7 352.6 516.3 351.1C516.0 350.0 515.0 348.6 515.7 347.7Z"/>
<path fill="#FFCC00" d="M540.1 365.4C541.1 364.3 543.0 364.6 544.5 364.9C545.8 365.2 547.5 365.8 547.8 367.1C548.2 368.8 547.3 370.8 546.2 372.1C545.3 373.1 543.5 373.6 542.3 373.2C541.0 372.7 540.4 371.1 540.1 369.9C539.7 368.4 539.1 366.5 540.1 365.4Z"/>
<path fill="#00FF50" d="M502.5 333.4L508.0 333.4C508.0 333.4 508.1 339.5 506.9 342.2C506.5 343.1 504.5 343.0 504.1 342.2C502.8 339.5 502.5 333.4 502.5 333.4Z"/>
<path fill="#00FF50" d="M548.9 333.4L562.6 333.4L562.6 350.0C562.6 350.0 555.7 351.7 552.2 351.1C550.9 350.8 550.5 349.0 550.0 347.7C549.5 346.3 549.6 344.8 549.5 343.3C549.2 340.0 548.9 333.4 548.9 333.4Z"/>
<path fill="#00FF50" d="M538.4 354.4C538.8 353.0 539.9 351.7 541.2 351.1C543.2 350.1 545.8 349.1 547.8 350.0C549.2 350.6 549.1 352.9 548.9 354.4C548.7 356.0 547.9 357.6 546.7 358.8C545.5 360.0 543.9 361.0 542.3 361.0C541.0 361.0 539.6 360.0 539.0 358.8C538.2 357.5 538.0 355.8 538.4 354.4Z"/>
<path fill="#00FF50" d="M449.4 374.3C449.4 374.3 457.5 373.3 461.5 373.2C463.8 373.1 466.0 373.1 468.2 373.7C469.8 374.2 470.9 376.5 472.6 376.5C474.3 376.5 475.3 373.9 477.0 373.7C478.9 373.5 480.8 374.5 482.5 375.4C484.2 376.2 485.1 378.7 487.0 378.7C489.1 378.7 491.2 377.1 492.5 375.4C493.9 373.6 493.6 370.8 494.7 368.8C495.5 367.4 496.7 366.3 498.0 365.4C499.7 364.4 501.8 364.1 503.6 363.2C505.1 362.5 506.4 359.8 508.0 360.5C509.6 361.1 509.2 363.7 509.1 365.4C508.9 368.1 507.4 370.6 506.9 373.2C506.3 375.7 506.8 378.5 505.8 380.9C505.2 382.1 503.7 382.7 502.5 383.1C500.7 383.8 498.6 383.5 496.9 384.2C495.2 385.0 493.2 385.8 492.5 387.6C490.8 392.1 490.3 401.9 490.3 401.9L449.4 401.9L449.4 374.3Z"/>
<path fill="#00F0FF" d="M449.4 380.9C449.4 380.9 456.7 379.0 460.4 378.7C461.9 378.6 463.7 378.9 464.8 379.8C465.8 380.6 466.3 382.0 466.0 383.1C465.5 384.6 463.0 384.9 462.6 386.5C461.5 391.5 461.5 401.9 461.5 401.9L449.4 401.9L449.4 380.9Z"/>
<path fill="#00F0FF" d="M467.6 386.5C467.8 385.2 469.1 383.7 470.4 383.7C471.6 383.7 472.5 385.3 472.6 386.5C473.2 391.6 472.6 401.9 472.6 401.9L468.2 401.9C468.2 401.9 467.0 391.6 467.6 386.5Z"/>
<path fill="#00F0FF" d="M498.0 375.4C498.0 373.5 498.7 371.5 499.7 369.9C500.3 368.8 501.3 367.8 502.5 367.7C503.4 367.6 504.4 368.4 504.7 369.3C505.2 371.3 505.1 373.4 504.7 375.4C504.3 377.0 503.6 378.7 502.5 379.8C501.8 380.5 500.4 381.0 499.7 380.4C498.5 379.1 498.0 377.1 498.0 375.4Z"/>
<path fill="#0028FF" d="M500.0 375.4C500.0 374.2 500.5 372.9 501.4 372.1C501.9 371.6 503.2 371.4 503.6 372.1C504.2 373.2 504.0 374.7 503.6 376.0C503.3 376.9 502.6 378.3 501.6 378.2C500.5 378.0 500.1 376.5 500.0 375.4Z"/>
<path fill="#FFCC00" d="M496.4 401.9C496.4 401.9 496.2 392.2 497.5 387.6C497.8 386.3 499.5 385.5 500.8 385.4C502.0 385.3 503.8 385.8 504.1 387.0C505.4 391.8 505.2 401.9 505.2 401.9L496.4 401.9Z"/>
<path fill="#FF9900" d="M498.0 401.9C498.0 401.9 498.1 393.0 499.1 388.7C499.3 387.9 500.5 387.5 501.4 387.6C502.3 387.7 503.4 388.3 503.6 389.2C504.4 393.4 504.1 401.9 504.1 401.9L498.0 401.9Z"/>
<path fill="#00FF50" d="M509.1 351.1C509.3 345.1 510.8 333.4 510.8 333.4L512.4 333.4C512.4 333.4 511.6 345.2 511.3 351.1C511.0 356.6 511.0 362.1 510.8 367.7C510.6 370.6 510.7 373.6 510.2 376.5C510.1 376.9 509.1 376.9 509.1 376.5C508.7 368.0 508.8 359.5 509.1 351.1Z"/>
<path fill="#00FF50" d="M513.5 362.1C513.8 360.7 515.2 357.8 516.3 358.8C518.6 360.9 518.6 364.7 519.6 367.7C520.6 370.6 521.1 373.7 522.4 376.5C523.6 379.2 526.0 381.4 526.8 384.2C528.3 390.0 529.0 401.9 529.0 401.9L511.3 401.9C511.3 401.9 511.9 385.0 512.4 376.5C512.7 371.7 512.5 366.8 513.5 362.1Z"/>
<path fill="#FF9900" d="M512.4 333.4L513.5 333.4C513.5 333.4 513.3 345.2 513.0 351.1C512.6 358.4 512.1 365.8 511.3 373.2C510.8 378.4 510.2 383.6 509.1 388.7C509.0 389.0 508.0 389.0 508.0 388.7C508.4 383.5 509.7 378.4 510.2 373.2C511.0 365.8 511.5 358.4 511.9 351.1C512.2 345.2 512.4 333.4 512.4 333.4Z"/>
<path fill="#00F0FF" d="M513.0 373.2C513.2 369.8 513.1 365.9 515.2 363.2C516.3 361.7 516.3 366.9 516.3 368.8C516.3 371.4 515.3 373.9 515.2 376.5C515.1 379.1 516.2 381.7 515.7 384.2C515.6 385.3 513.8 387.5 513.5 386.5C512.4 382.2 512.7 377.6 513.0 373.2Z"/>
<path fill="#0028FF" d="M516.8 374.3C516.8 372.4 516.3 370.0 517.7 368.8C518.6 367.9 519.1 370.9 519.3 372.1C519.6 373.9 519.6 375.8 519.3 377.6C519.2 378.2 518.3 379.2 517.9 378.7C517.0 377.5 516.9 375.8 516.8 374.3Z"/>
<path fill="#00F0FF" d="M519.1 384.2C519.2 383.1 521.3 382.8 522.4 383.1C524.1 383.6 526.2 384.7 526.8 386.5C528.4 391.4 528.5 401.9 528.5 401.9L519.6 401.9C519.6 401.9 518.2 390.1 519.1 384.2Z"/>
<path fill="#0028FF" d="M521.3 401.9C521.3 401.9 521.0 392.3 521.8 387.6C522.0 386.7 523.1 385.7 524.0 385.9C525.1 386.2 525.5 387.6 525.7 388.7C526.3 393.1 526.2 401.9 526.2 401.9L521.3 401.9Z"/>
<path fill="#0028FF" d="M513.7 383.7C513.9 383.3 514.6 382.8 514.8 383.1C515.3 383.7 515.4 384.6 515.2 385.4C515.1 385.8 514.3 386.2 514.1 385.9C513.6 385.3 513.5 384.4 513.7 383.7Z"/>
<path fill="#00FF50" d="M522.4 376.5C522.7 374.2 525.1 372.6 526.8 371.0C528.5 369.3 530.4 367.9 532.3 366.5C533.7 365.5 535.0 364.1 536.8 363.8C537.7 363.6 538.7 364.6 539.0 365.4C539.5 367.6 539.6 370.0 539.0 372.1C538.4 373.8 536.9 375.2 535.6 376.5C534.3 377.8 532.3 378.3 531.2 379.8C530.3 381.1 529.9 382.7 530.1 384.2C530.3 385.9 532.0 387.1 532.3 388.7C533.1 393.0 533.4 401.9 533.4 401.9L526.8 401.9C526.8 401.9 526.2 390.1 525.1 384.2C524.7 381.5 522.0 379.2 522.4 376.5Z"/>
<path fill="#00F0FF" d="M531.8 371.5C532.2 370.0 533.4 368.7 534.5 367.7C535.5 366.8 536.7 365.7 537.9 366.0C538.8 366.3 538.7 367.9 538.4 368.8C537.9 370.1 536.8 371.2 535.6 372.1C534.9 372.7 533.9 373.3 532.9 373.2C532.2 373.1 531.6 372.2 531.8 371.5Z"/>
<path fill="#00FF50" d="M539.0 401.9C539.0 401.9 539.1 390.1 540.1 384.2C540.3 382.9 541.0 381.3 542.3 380.9C543.3 380.7 543.5 383.5 544.5 383.1C546.2 382.5 546.3 379.7 547.8 378.7C548.7 378.1 550.5 377.8 551.1 378.7C552.0 379.9 551.7 381.8 551.1 383.1C550.5 384.6 548.3 385.0 547.8 386.5C546.1 391.4 544.5 401.9 544.5 401.9L539.0 401.9Z"/>
<path fill="#00F0FF" d="M539.0 355.5C539.1 355.1 539.9 354.6 540.1 354.9C540.5 356.0 540.4 357.2 540.1 358.3C540.0 358.6 539.1 358.6 539.0 358.3C538.6 357.4 538.7 356.4 539.0 355.5Z"/>
</g>
<g clip-path="url(#t15)">
<rect x="556" y="340" width="100" height="70" fill="#F0FF00"/>
<path fill="#00FF50" d="M549.4 333.4L593.6 333.4C593.6 333.4 593.7 340.9 592.5 344.4C591.8 346.7 589.6 348.1 588.1 350.0C586.6 351.8 585.1 353.6 583.7 355.5C582.5 356.9 582.2 359.7 580.3 359.9C578.5 360.2 577.4 357.7 575.9 356.6C574.0 355.1 572.5 353.1 570.4 352.2C568.3 351.2 566.0 351.3 563.7 351.1C559.0 350.6 549.4 350.0 549.4 350.0L549.4 333.4Z"/>
<path fill="#F0FF00" d="M574.3 342.2C574.2 341.5 576.0 341.6 576.5 342.2C578.1 344.5 579.0 347.2 579.8 350.0C580.2 351.4 581.1 353.7 579.8 354.4C578.6 355.0 578.1 352.3 577.6 351.1C576.3 348.2 574.6 345.3 574.3 342.2Z"/>
<path fill="#00FF50" d="M582.5 371.0C581.0 369.4 581.6 366.5 582.0 364.3C582.3 362.6 583.7 361.3 584.8 359.9C586.1 358.0 587.6 356.1 589.2 354.4C590.6 352.8 592.1 351.3 593.6 350.0C595.4 348.4 597.3 347.0 599.1 345.5C600.6 344.4 602.6 343.8 603.6 342.2C605.3 339.6 606.9 333.4 606.9 333.4L662.6 333.4L662.6 367.7C662.6 367.7 647.6 367.4 640.1 367.7C637.8 367.7 635.7 368.8 633.4 368.8C631.6 368.8 629.5 368.7 627.9 367.7C626.9 367.0 626.6 365.5 626.8 364.3C627.0 363.2 629.4 362.7 629.0 361.6C628.6 360.5 626.7 361.2 625.7 361.6C624.4 362.0 623.7 363.6 622.4 363.8C620.2 364.1 618.0 363.3 615.7 363.2C613.5 363.1 611.3 363.1 609.1 363.2C606.9 363.3 604.7 363.5 602.5 363.8C600.6 364.0 598.8 364.5 596.9 364.9C594.7 365.4 592.5 365.9 590.3 366.5C588.8 367.0 587.2 367.4 585.9 368.2C584.6 368.9 583.6 372.0 582.5 371.0Z"/>
<path fill="#00F0FF" d="M604.1 353.3C604.3 352.1 604.9 350.9 605.8 350.0C607.0 348.6 608.6 347.5 610.2 346.6C612.3 345.6 614.6 345.0 616.8 344.4C619.4 343.7 622.4 344.3 624.6 342.8C627.9 340.4 632.3 333.4 632.3 333.4L662.6 333.4L662.6 354.4C662.6 354.4 649.8 354.5 643.4 353.8C641.4 353.6 639.8 351.5 637.9 351.6C636.1 351.7 635.1 353.8 633.4 354.4C631.3 355.1 629.0 354.9 626.8 355.5C624.5 356.1 622.5 357.3 620.2 357.7C618.0 358.1 615.7 357.9 613.5 357.7C611.6 357.5 609.8 356.9 608.0 356.6C606.9 356.4 605.5 356.8 604.7 356.0C604.0 355.4 604.0 354.2 604.1 353.3Z"/>
<path fill="#00FF50" d="M558.2 378.7C558.4 377.4 559.5 376.3 560.4 375.4C561.7 374.1 563.3 373.1 564.8 372.1C566.3 371.1 567.5 369.4 569.3 369.3C570.9 369.2 572.2 370.9 573.7 371.5C575.1 372.2 576.7 372.5 578.1 373.2C579.5 373.8 581.5 374.0 582.0 375.4C582.5 376.7 581.7 378.8 580.3 379.3C579.1 379.7 578.2 377.6 577.0 377.1C575.3 376.3 573.4 375.5 571.5 375.4C569.6 375.3 567.7 375.8 566.0 376.5C564.7 377.0 563.8 378.0 562.6 378.7C561.7 379.3 560.9 380.4 559.9 380.4C559.1 380.4 558.1 379.5 558.2 378.7Z"/>
<path fill="#FFCC00" d="M612.4 401.9C612.4 401.9 612.0 390.7 613.5 385.4C614.0 383.8 616.4 383.6 617.9 383.1C620.1 382.5 622.6 383.0 624.6 382.0C626.4 381.1 627.4 379.0 629.0 377.6C630.4 376.4 631.8 375.0 633.4 374.3C635.5 373.4 637.8 373.0 640.1 372.6C642.6 372.2 645.2 372.1 647.8 372.1C652.8 372.0 662.6 372.1 662.6 372.1L662.6 401.9L612.4 401.9Z"/>
<path fill="#FFCC00" d="M603.6 377.6C603.7 376.4 604.2 375.0 605.2 374.3C606.0 373.7 607.3 373.7 608.0 374.3C609.2 375.4 609.9 377.1 610.2 378.7C610.5 380.2 610.5 381.9 609.7 383.1C609.1 383.9 607.8 384.0 606.9 383.7C605.9 383.4 605.2 382.4 604.7 381.5C604.0 380.3 603.5 378.9 603.6 377.6Z"/>
<path fill="#FFCC00" d="M569.3 360.5C569.3 359.8 570.3 359.1 570.9 359.4C572.2 359.8 573.2 360.9 573.7 362.1C574.0 362.8 573.9 364.1 573.1 364.3C572.4 364.6 571.5 363.8 570.9 363.2C570.2 362.5 569.3 361.5 569.3 360.5Z"/>
<path fill="#FFCC00" d="M613.5 368.8C614.0 368.2 615.1 367.8 615.7 368.2C616.3 368.7 616.2 369.8 615.7 370.4C615.3 371.0 614.3 371.2 613.7 370.8C613.2 370.4 613.1 369.3 613.5 368.8Z"/>
<path fill="#FFCC00" d="M563.7 401.9C563.7 401.9 564.5 392.8 567.1 389.2C568.4 387.4 571.5 388.2 573.7 388.1C576.3 388.0 580.0 386.5 581.4 388.7C583.8 392.4 582.5 401.9 582.5 401.9L563.7 401.9Z"/>
<path fill="#00F0FF" d="M558.2 333.4L561.0 333.4C561.0 333.4 563.2 341.7 560.4 341.7C557.6 341.7 558.2 333.4 558.2 333.4Z"/>
</g>
</g>
<g stroke="#000" stroke-width="1.1" fill="none" shape-rendering="crispEdges"><path stroke-width="1.1" d="M271.3 131.0 v4.5 M271.3 391.5 v-4.5"/><path stroke-width="1.1" d="M286.6 131.0 v4.5 M286.6 391.5 v-4.5"/><path stroke-width="1.1" d="M301.9 131.0 v4.5 M301.9 391.5 v-4.5"/><path stroke-width="1.1" d="M317.2 131.0 v4.5 M317.2 391.5 v-4.5"/><path stroke-width="2" d="M332.5 131.0 v8.5 M332.5 391.5 v-8.5"/><path stroke-width="1.1" d="M347.8 131.0 v4.5 M347.8 391.5 v-4.5"/><path stroke-width="1.1" d="M363.1 131.0 v4.5 M363.1 391.5 v-4.5"/><path stroke-width="1.1" d="M378.4 131.0 v4.5 M378.4 391.5 v-4.5"/><path stroke-width="1.1" d="M393.7 131.0 v4.5 M393.7 391.5 v-4.5"/><path stroke-width="2" d="M409.0 131.0 v8.5 M409.0 391.5 v-8.5"/><path stroke-width="1.1" d="M424.3 131.0 v4.5 M424.3 391.5 v-4.5"/><path stroke-width="1.1" d="M439.6 131.0 v4.5 M439.6 391.5 v-4.5"/><path stroke-width="1.1" d="M454.9 131.0 v4.5 M454.9 391.5 v-4.5"/><path stroke-width="1.1" d="M470.2 131.0 v4.5 M470.2 391.5 v-4.5"/><path stroke-width="2" d="M485.5 131.0 v8.5 M485.5 391.5 v-8.5"/><path stroke-width="1.1" d="M500.8 131.0 v4.5 M500.8 391.5 v-4.5"/><path stroke-width="1.1" d="M516.1 131.0 v4.5 M516.1 391.5 v-4.5"/><path stroke-width="1.1" d="M531.4 131.0 v4.5 M531.4 391.5 v-4.5"/><path stroke-width="1.1" d="M546.7 131.0 v4.5 M546.7 391.5 v-4.5"/><path stroke-width="2" d="M562.0 131.0 v8.5 M562.0 391.5 v-8.5"/><path stroke-width="1.1" d="M577.3 131.0 v4.5 M577.3 391.5 v-4.5"/><path stroke-width="1.1" d="M592.6 131.0 v4.5 M592.6 391.5 v-4.5"/><path stroke-width="1.1" d="M607.9 131.0 v4.5 M607.9 391.5 v-4.5"/><path stroke-width="1.1" d="M623.2 131.0 v4.5 M623.2 391.5 v-4.5"/><path stroke-width="2" d="M638.5 131.0 v8.5 M638.5 391.5 v-8.5"/><path stroke-width="1.1" d="M256.0 147.1 h4.5 M648.0 147.1 h-4.5"/><path stroke-width="1.1" d="M256.0 164.7 h4.5 M648.0 164.7 h-4.5"/><path stroke-width="1.1" d="M256.0 182.4 h4.5 M648.0 182.4 h-4.5"/><path stroke-width="1.1" d="M256.0 200.0 h4.5 M648.0 200.0 h-4.5"/><path stroke-width="2" d="M256.0 217.7 h8.5 M648.0 217.7 h-8.5"/><path stroke-width="1.1" d="M256.0 235.4 h4.5 M648.0 235.4 h-4.5"/><path stroke-width="1.1" d="M256.0 253.0 h4.5 M648.0 253.0 h-4.5"/><path stroke-width="1.1" d="M256.0 270.7 h4.5 M648.0 270.7 h-4.5"/><path stroke-width="1.1" d="M256.0 288.3 h4.5 M648.0 288.3 h-4.5"/><path stroke-width="2" d="M256.0 306.0 h8.5 M648.0 306.0 h-8.5"/><path stroke-width="1.1" d="M256.0 323.7 h4.5 M648.0 323.7 h-4.5"/><path stroke-width="1.1" d="M256.0 341.3 h4.5 M648.0 341.3 h-4.5"/><path stroke-width="1.1" d="M256.0 359.0 h4.5 M648.0 359.0 h-4.5"/><path stroke-width="1.1" d="M256.0 376.6 h4.5 M648.0 376.6 h-4.5"/></g>
<rect x="256" y="131" width="392" height="260.5" fill="none" stroke="#000" stroke-width="2"/>
<rect x="664.1" y="363" width="13" height="28.9" fill="#E800A0"/><rect x="664.1" y="344.7" width="13" height="18.3" fill="#B400AA"/><rect x="664.1" y="325.8" width="13" height="18.9" fill="#7800AA"/><rect x="664.1" y="307.9" width="13" height="17.9" fill="#0000B4"/><rect x="664.1" y="301.9" width="13" height="6" fill="#0028FF"/><rect x="664.1" y="296" width="13" height="5.9" fill="#00F0FF"/><rect x="664.1" y="289" width="13" height="7" fill="#00FF50"/><rect x="664.1" y="282.9" width="13" height="6.1" fill="#F0FF00"/><rect x="664.1" y="277" width="13" height="5.9" fill="#FFCC00"/><rect x="664.1" y="270.9" width="13" height="6.1" fill="#FF9900"/><rect x="664.1" y="251.9" width="13" height="19" fill="#FF6600"/><rect x="664.1" y="234" width="13" height="17.9" fill="#FF1414"/><rect x="664.1" y="214.9" width="13" height="19.1" fill="#FF7878"/><rect x="664.1" y="195.7" width="13" height="19.2" fill="#FFB8B8"/><path d="M664.1 195.7 L670.6 167.5 L677.1 195.7 Z" fill="#FFDCDC" stroke="#000" stroke-width="1.8" stroke-linejoin="miter"/><rect x="664.1" y="195.7" width="13" height="196.2" fill="none" stroke="#000" stroke-width="2"/><path d="M664.1 363 H677.1" stroke="#000" stroke-width="1.7"/><path d="M664.1 344.7 H677.1" stroke="#000" stroke-width="1.7"/><path d="M664.1 325.8 H677.1" stroke="#000" stroke-width="1.7"/><path d="M664.1 307.9 H677.1" stroke="#000" stroke-width="1.7"/><path d="M664.1 301.9 H677.1" stroke="#000" stroke-width="1.7"/><path d="M664.1 296 H677.1" stroke="#000" stroke-width="1.7"/><path d="M664.1 289 H677.1" stroke="#000" stroke-width="1.7"/><path d="M664.1 282.9 H677.1" stroke="#000" stroke-width="1.7"/><path d="M664.1 277 H677.1" stroke="#000" stroke-width="1.7"/><path d="M664.1 270.9 H677.1" stroke="#000" stroke-width="1.7"/><path d="M664.1 251.9 H677.1" stroke="#000" stroke-width="1.7"/><path d="M664.1 234 H677.1" stroke="#000" stroke-width="1.7"/><path d="M664.1 214.9 H677.1" stroke="#000" stroke-width="1.7"/>
<g font-family="'Liberation Sans', sans-serif" fill="#000"><text transform="translate(350.5,84.5) scale(1.06,1)" font-size="31" text-anchor="start" textLength="75.0" lengthAdjust="spacing" stroke="#fff" stroke-width="0.75">zonal</text><text transform="translate(444.6,84.5) scale(1.06,1)" font-size="31" text-anchor="start" textLength="104.2" lengthAdjust="spacing" stroke="#fff" stroke-width="0.75">velocity</text><text transform="translate(164.6,108.8) scale(1.13,1)" font-size="16.2" text-anchor="start" textLength="77.9" lengthAdjust="spacing" stroke="#000" stroke-width="0.25">(×1E4 m)</text><text transform="translate(656,142.6) scale(1.12,1)" font-size="16.3" text-anchor="start" textLength="89.5" lengthAdjust="spacing" stroke="#fff" stroke-width="0.15">t=136800 s</text><text transform="translate(566.8,438.2) scale(1.13,1)" font-size="16.2" text-anchor="start" textLength="78.3" lengthAdjust="spacing" stroke="#000" stroke-width="0.25">(×1E5 m)</text><text transform="translate(371.5,468.5) scale(1.06,1)" font-size="23" text-anchor="start" textLength="154.2" lengthAdjust="spacing" stroke="#fff" stroke-width="0.5">X−coordinate</text><text transform="translate(217.5,340) rotate(-90) scale(1.06,1)" font-size="23.5" textLength="151.4" lengthAdjust="spacing" stroke="#fff" stroke-width="0.5">Z−coordinate</text><text transform="translate(332.3,414.8) scale(1.08,1)" font-size="17.5" text-anchor="middle">1</text><text transform="translate(409,414.8) scale(1.08,1)" font-size="17.5" text-anchor="middle">2</text><text transform="translate(486,414.8) scale(1.08,1)" font-size="17.5" text-anchor="middle">3</text><text transform="translate(562.3,414.8) scale(1.08,1)" font-size="17.5" text-anchor="middle">4</text><text transform="translate(639,414.8) scale(1.08,1)" font-size="17.5" text-anchor="middle">5</text><text transform="translate(240,311.8) scale(1.08,1)" font-size="17.5" text-anchor="middle">1</text><text transform="translate(240,223.7) scale(1.08,1)" font-size="17.5" text-anchor="middle">2</text><text transform="translate(687.4,201.8) scale(1,1)" font-size="16.8" text-anchor="start" textLength="30.6" lengthAdjust="spacingAndGlyphs" stroke="#000" stroke-width="0.45">15.1</text><text transform="translate(687.4,257.6) scale(1,1)" font-size="16.8" text-anchor="start" stroke="#000" stroke-width="0.45">6</text><text transform="translate(687.4,288.9) scale(1,1)" font-size="16.8" text-anchor="start" stroke="#000" stroke-width="0.45">1</text><text transform="translate(687.4,306.8) scale(1,1)" font-size="16.8" text-anchor="start" textLength="22.3" lengthAdjust="spacingAndGlyphs" stroke="#000" stroke-width="0.45">−2</text><text transform="translate(687.4,350.9) scale(1,1)" font-size="16.8" text-anchor="start" textLength="22.5" lengthAdjust="spacingAndGlyphs" stroke="#000" stroke-width="0.45">−9</text></g>
</svg>
</body></html>
